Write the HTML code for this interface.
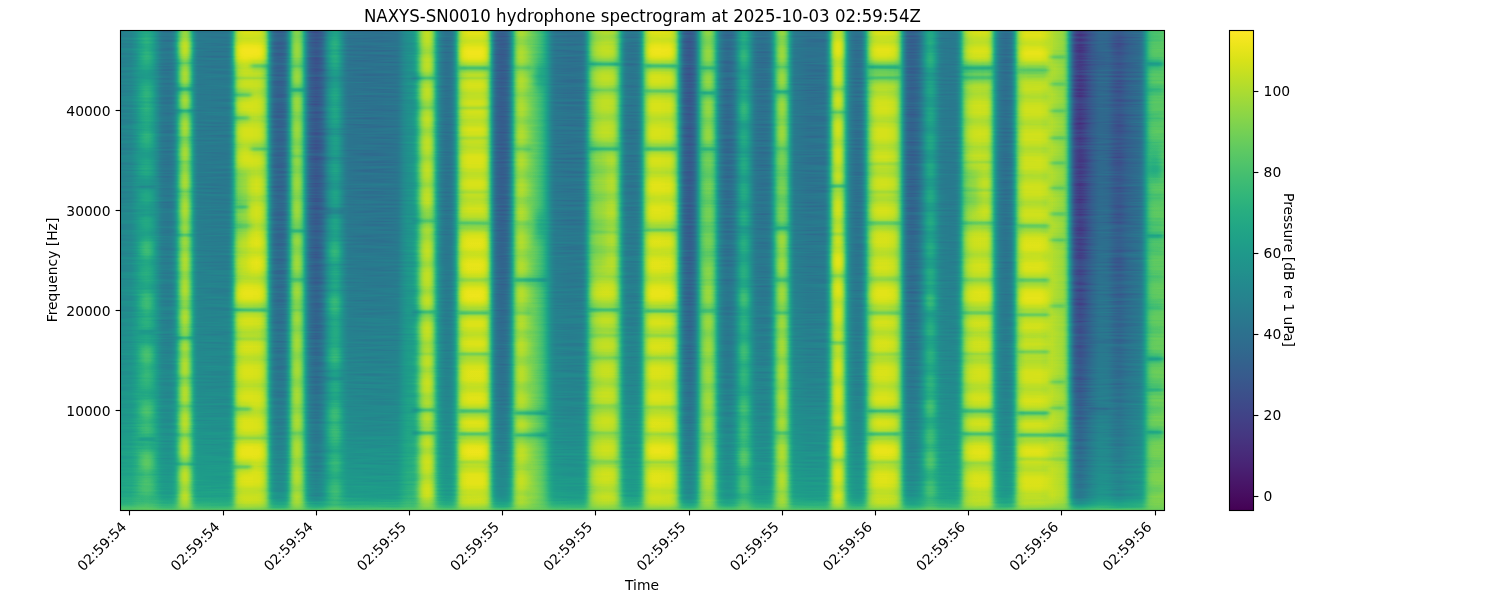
<!DOCTYPE html>
<html lang="en"><head><meta charset="utf-8"><title>NAXYS-SN0010 hydrophone spectrogram</title>
<style>html,body{margin:0;padding:0;background:#fff}svg{display:block}text{font-family:'DejaVu Sans','Liberation Sans',sans-serif;fill:#000}</style></head>
<body>
<svg width="1500" height="600" viewBox="0 0 1500 600">
<defs><linearGradient id="prof" gradientUnits="userSpaceOnUse" x1="120" y1="0" x2="1164" y2="0"><stop offset="0.0000" stop-color="#707070"/><stop offset="0.0019" stop-color="#717171"/><stop offset="0.0038" stop-color="#717171"/><stop offset="0.0057" stop-color="#727272"/><stop offset="0.0077" stop-color="#737373"/><stop offset="0.0096" stop-color="#747474"/><stop offset="0.0115" stop-color="#777777"/><stop offset="0.0134" stop-color="#7c7c7c"/><stop offset="0.0153" stop-color="#818181"/><stop offset="0.0172" stop-color="#888888"/><stop offset="0.0192" stop-color="#8f8f8f"/><stop offset="0.0211" stop-color="#949494"/><stop offset="0.0230" stop-color="#979797"/><stop offset="0.0249" stop-color="#999999"/><stop offset="0.0268" stop-color="#989898"/><stop offset="0.0287" stop-color="#959595"/><stop offset="0.0307" stop-color="#909090"/><stop offset="0.0326" stop-color="#898989"/><stop offset="0.0345" stop-color="#7f7f7f"/><stop offset="0.0364" stop-color="#767676"/><stop offset="0.0383" stop-color="#6d6d6d"/><stop offset="0.0402" stop-color="#676767"/><stop offset="0.0421" stop-color="#646464"/><stop offset="0.0441" stop-color="#636363"/><stop offset="0.0460" stop-color="#626262"/><stop offset="0.0479" stop-color="#646464"/><stop offset="0.0498" stop-color="#676767"/><stop offset="0.0517" stop-color="#707070"/><stop offset="0.0536" stop-color="#848484"/><stop offset="0.0556" stop-color="#a3a3a3"/><stop offset="0.0575" stop-color="#c0c0c0"/><stop offset="0.0594" stop-color="#d4d4d4"/><stop offset="0.0613" stop-color="#dedede"/><stop offset="0.0632" stop-color="#dfdfdf"/><stop offset="0.0651" stop-color="#d5d5d5"/><stop offset="0.0670" stop-color="#c0c0c0"/><stop offset="0.0690" stop-color="#a2a2a2"/><stop offset="0.0709" stop-color="#848484"/><stop offset="0.0728" stop-color="#727272"/><stop offset="0.0747" stop-color="#6a6a6a"/><stop offset="0.0766" stop-color="#686868"/><stop offset="0.0785" stop-color="#686868"/><stop offset="0.0805" stop-color="#676767"/><stop offset="0.0824" stop-color="#676767"/><stop offset="0.0843" stop-color="#676767"/><stop offset="0.0862" stop-color="#676767"/><stop offset="0.0881" stop-color="#666666"/><stop offset="0.0900" stop-color="#666666"/><stop offset="0.0920" stop-color="#666666"/><stop offset="0.0939" stop-color="#666666"/><stop offset="0.0958" stop-color="#666666"/><stop offset="0.0977" stop-color="#666666"/><stop offset="0.0996" stop-color="#666666"/><stop offset="0.1015" stop-color="#666666"/><stop offset="0.1034" stop-color="#686868"/><stop offset="0.1054" stop-color="#707070"/><stop offset="0.1073" stop-color="#858585"/><stop offset="0.1092" stop-color="#a5a5a5"/><stop offset="0.1111" stop-color="#c8c8c8"/><stop offset="0.1130" stop-color="#dfdfdf"/><stop offset="0.1149" stop-color="#e8e8e8"/><stop offset="0.1169" stop-color="#ececec"/><stop offset="0.1188" stop-color="#eeeeee"/><stop offset="0.1207" stop-color="#efefef"/><stop offset="0.1226" stop-color="#efefef"/><stop offset="0.1245" stop-color="#efefef"/><stop offset="0.1264" stop-color="#efefef"/><stop offset="0.1284" stop-color="#eeeeee"/><stop offset="0.1303" stop-color="#eeeeee"/><stop offset="0.1322" stop-color="#ededed"/><stop offset="0.1341" stop-color="#ebebeb"/><stop offset="0.1360" stop-color="#e6e6e6"/><stop offset="0.1379" stop-color="#dcdcdc"/><stop offset="0.1398" stop-color="#c8c8c8"/><stop offset="0.1418" stop-color="#a6a6a6"/><stop offset="0.1437" stop-color="#818181"/><stop offset="0.1456" stop-color="#666666"/><stop offset="0.1475" stop-color="#585858"/><stop offset="0.1494" stop-color="#525252"/><stop offset="0.1513" stop-color="#4f4f4f"/><stop offset="0.1533" stop-color="#4f4f4f"/><stop offset="0.1552" stop-color="#505050"/><stop offset="0.1571" stop-color="#545454"/><stop offset="0.1590" stop-color="#5f5f5f"/><stop offset="0.1609" stop-color="#777777"/><stop offset="0.1628" stop-color="#9a9a9a"/><stop offset="0.1648" stop-color="#bcbcbc"/><stop offset="0.1667" stop-color="#d0d0d0"/><stop offset="0.1686" stop-color="#d9d9d9"/><stop offset="0.1705" stop-color="#d9d9d9"/><stop offset="0.1724" stop-color="#d1d1d1"/><stop offset="0.1743" stop-color="#bfbfbf"/><stop offset="0.1762" stop-color="#a0a0a0"/><stop offset="0.1782" stop-color="#7d7d7d"/><stop offset="0.1801" stop-color="#616161"/><stop offset="0.1820" stop-color="#525252"/><stop offset="0.1839" stop-color="#4a4a4a"/><stop offset="0.1858" stop-color="#464646"/><stop offset="0.1877" stop-color="#434343"/><stop offset="0.1897" stop-color="#454545"/><stop offset="0.1916" stop-color="#494949"/><stop offset="0.1935" stop-color="#505050"/><stop offset="0.1954" stop-color="#5b5b5b"/><stop offset="0.1973" stop-color="#6a6a6a"/><stop offset="0.1992" stop-color="#787878"/><stop offset="0.2011" stop-color="#848484"/><stop offset="0.2031" stop-color="#8c8c8c"/><stop offset="0.2050" stop-color="#919191"/><stop offset="0.2069" stop-color="#929292"/><stop offset="0.2088" stop-color="#8e8e8e"/><stop offset="0.2107" stop-color="#858585"/><stop offset="0.2126" stop-color="#7a7a7a"/><stop offset="0.2146" stop-color="#707070"/><stop offset="0.2165" stop-color="#686868"/><stop offset="0.2184" stop-color="#636363"/><stop offset="0.2203" stop-color="#616161"/><stop offset="0.2222" stop-color="#616161"/><stop offset="0.2241" stop-color="#606060"/><stop offset="0.2261" stop-color="#606060"/><stop offset="0.2280" stop-color="#606060"/><stop offset="0.2299" stop-color="#606060"/><stop offset="0.2318" stop-color="#606060"/><stop offset="0.2337" stop-color="#5f5f5f"/><stop offset="0.2356" stop-color="#5f5f5f"/><stop offset="0.2375" stop-color="#5f5f5f"/><stop offset="0.2395" stop-color="#5f5f5f"/><stop offset="0.2414" stop-color="#5f5f5f"/><stop offset="0.2433" stop-color="#5f5f5f"/><stop offset="0.2452" stop-color="#5f5f5f"/><stop offset="0.2471" stop-color="#5f5f5f"/><stop offset="0.2490" stop-color="#5f5f5f"/><stop offset="0.2510" stop-color="#5f5f5f"/><stop offset="0.2529" stop-color="#5f5f5f"/><stop offset="0.2548" stop-color="#606060"/><stop offset="0.2567" stop-color="#606060"/><stop offset="0.2586" stop-color="#606060"/><stop offset="0.2605" stop-color="#606060"/><stop offset="0.2625" stop-color="#616161"/><stop offset="0.2644" stop-color="#616161"/><stop offset="0.2663" stop-color="#646464"/><stop offset="0.2682" stop-color="#6a6a6a"/><stop offset="0.2701" stop-color="#717171"/><stop offset="0.2720" stop-color="#777777"/><stop offset="0.2739" stop-color="#7b7b7b"/><stop offset="0.2759" stop-color="#7f7f7f"/><stop offset="0.2778" stop-color="#818181"/><stop offset="0.2797" stop-color="#848484"/><stop offset="0.2816" stop-color="#8b8b8b"/><stop offset="0.2835" stop-color="#999999"/><stop offset="0.2854" stop-color="#afafaf"/><stop offset="0.2874" stop-color="#c5c5c5"/><stop offset="0.2893" stop-color="#d7d7d7"/><stop offset="0.2912" stop-color="#e1e1e1"/><stop offset="0.2931" stop-color="#e6e6e6"/><stop offset="0.2950" stop-color="#e7e7e7"/><stop offset="0.2969" stop-color="#e2e2e2"/><stop offset="0.2989" stop-color="#d6d6d6"/><stop offset="0.3008" stop-color="#bebebe"/><stop offset="0.3027" stop-color="#9f9f9f"/><stop offset="0.3046" stop-color="#848484"/><stop offset="0.3065" stop-color="#727272"/><stop offset="0.3084" stop-color="#686868"/><stop offset="0.3103" stop-color="#626262"/><stop offset="0.3123" stop-color="#5f5f5f"/><stop offset="0.3142" stop-color="#5f5f5f"/><stop offset="0.3161" stop-color="#616161"/><stop offset="0.3180" stop-color="#676767"/><stop offset="0.3199" stop-color="#757575"/><stop offset="0.3218" stop-color="#8f8f8f"/><stop offset="0.3238" stop-color="#b4b4b4"/><stop offset="0.3257" stop-color="#d4d4d4"/><stop offset="0.3276" stop-color="#e5e5e5"/><stop offset="0.3295" stop-color="#ececec"/><stop offset="0.3314" stop-color="#efefef"/><stop offset="0.3333" stop-color="#f1f1f1"/><stop offset="0.3352" stop-color="#f2f2f2"/><stop offset="0.3372" stop-color="#f2f2f2"/><stop offset="0.3391" stop-color="#f2f2f2"/><stop offset="0.3410" stop-color="#f2f2f2"/><stop offset="0.3429" stop-color="#f2f2f2"/><stop offset="0.3448" stop-color="#f2f2f2"/><stop offset="0.3467" stop-color="#f1f1f1"/><stop offset="0.3487" stop-color="#eeeeee"/><stop offset="0.3506" stop-color="#e6e6e6"/><stop offset="0.3525" stop-color="#d5d5d5"/><stop offset="0.3544" stop-color="#b4b4b4"/><stop offset="0.3563" stop-color="#8a8a8a"/><stop offset="0.3582" stop-color="#686868"/><stop offset="0.3602" stop-color="#565656"/><stop offset="0.3621" stop-color="#4e4e4e"/><stop offset="0.3640" stop-color="#4b4b4b"/><stop offset="0.3659" stop-color="#4a4a4a"/><stop offset="0.3678" stop-color="#4b4b4b"/><stop offset="0.3697" stop-color="#4e4e4e"/><stop offset="0.3716" stop-color="#565656"/><stop offset="0.3736" stop-color="#686868"/><stop offset="0.3755" stop-color="#878787"/><stop offset="0.3774" stop-color="#acacac"/><stop offset="0.3793" stop-color="#c9c9c9"/><stop offset="0.3812" stop-color="#d9d9d9"/><stop offset="0.3831" stop-color="#e0e0e0"/><stop offset="0.3851" stop-color="#e1e1e1"/><stop offset="0.3870" stop-color="#dedede"/><stop offset="0.3889" stop-color="#dadada"/><stop offset="0.3908" stop-color="#d4d4d4"/><stop offset="0.3927" stop-color="#cecece"/><stop offset="0.3946" stop-color="#c8c8c8"/><stop offset="0.3966" stop-color="#c2c2c2"/><stop offset="0.3985" stop-color="#bdbdbd"/><stop offset="0.4004" stop-color="#b7b7b7"/><stop offset="0.4023" stop-color="#b1b1b1"/><stop offset="0.4042" stop-color="#aaaaaa"/><stop offset="0.4061" stop-color="#a1a1a1"/><stop offset="0.4080" stop-color="#959595"/><stop offset="0.4100" stop-color="#878787"/><stop offset="0.4119" stop-color="#797979"/><stop offset="0.4138" stop-color="#6e6e6e"/><stop offset="0.4157" stop-color="#676767"/><stop offset="0.4176" stop-color="#636363"/><stop offset="0.4195" stop-color="#626262"/><stop offset="0.4215" stop-color="#626262"/><stop offset="0.4234" stop-color="#616161"/><stop offset="0.4253" stop-color="#606060"/><stop offset="0.4272" stop-color="#606060"/><stop offset="0.4291" stop-color="#5f5f5f"/><stop offset="0.4310" stop-color="#5f5f5f"/><stop offset="0.4330" stop-color="#5f5f5f"/><stop offset="0.4349" stop-color="#5f5f5f"/><stop offset="0.4368" stop-color="#5f5f5f"/><stop offset="0.4387" stop-color="#606060"/><stop offset="0.4406" stop-color="#606060"/><stop offset="0.4425" stop-color="#626262"/><stop offset="0.4444" stop-color="#696969"/><stop offset="0.4464" stop-color="#7c7c7c"/><stop offset="0.4483" stop-color="#9a9a9a"/><stop offset="0.4502" stop-color="#b8b8b8"/><stop offset="0.4521" stop-color="#cccccc"/><stop offset="0.4540" stop-color="#d7d7d7"/><stop offset="0.4559" stop-color="#dedede"/><stop offset="0.4579" stop-color="#e2e2e2"/><stop offset="0.4598" stop-color="#e4e4e4"/><stop offset="0.4617" stop-color="#e6e6e6"/><stop offset="0.4636" stop-color="#e7e7e7"/><stop offset="0.4655" stop-color="#e7e7e7"/><stop offset="0.4674" stop-color="#e7e7e7"/><stop offset="0.4693" stop-color="#e6e6e6"/><stop offset="0.4713" stop-color="#e5e5e5"/><stop offset="0.4732" stop-color="#e0e0e0"/><stop offset="0.4751" stop-color="#d4d4d4"/><stop offset="0.4770" stop-color="#c2c2c2"/><stop offset="0.4789" stop-color="#a7a7a7"/><stop offset="0.4808" stop-color="#898989"/><stop offset="0.4828" stop-color="#737373"/><stop offset="0.4847" stop-color="#686868"/><stop offset="0.4866" stop-color="#646464"/><stop offset="0.4885" stop-color="#636363"/><stop offset="0.4904" stop-color="#626262"/><stop offset="0.4923" stop-color="#636363"/><stop offset="0.4943" stop-color="#646464"/><stop offset="0.4962" stop-color="#696969"/><stop offset="0.4981" stop-color="#767676"/><stop offset="0.5000" stop-color="#909090"/><stop offset="0.5019" stop-color="#b3b3b3"/><stop offset="0.5038" stop-color="#d0d0d0"/><stop offset="0.5057" stop-color="#e1e1e1"/><stop offset="0.5077" stop-color="#ebebeb"/><stop offset="0.5096" stop-color="#efefef"/><stop offset="0.5115" stop-color="#f0f0f0"/><stop offset="0.5134" stop-color="#f0f0f0"/><stop offset="0.5153" stop-color="#f0f0f0"/><stop offset="0.5172" stop-color="#f0f0f0"/><stop offset="0.5192" stop-color="#efefef"/><stop offset="0.5211" stop-color="#efefef"/><stop offset="0.5230" stop-color="#eeeeee"/><stop offset="0.5249" stop-color="#eeeeee"/><stop offset="0.5268" stop-color="#ededed"/><stop offset="0.5287" stop-color="#e8e8e8"/><stop offset="0.5307" stop-color="#dedede"/><stop offset="0.5326" stop-color="#cbcbcb"/><stop offset="0.5345" stop-color="#ababab"/><stop offset="0.5364" stop-color="#858585"/><stop offset="0.5383" stop-color="#656565"/><stop offset="0.5402" stop-color="#535353"/><stop offset="0.5421" stop-color="#4b4b4b"/><stop offset="0.5441" stop-color="#474747"/><stop offset="0.5460" stop-color="#464646"/><stop offset="0.5479" stop-color="#4a4a4a"/><stop offset="0.5498" stop-color="#525252"/><stop offset="0.5517" stop-color="#636363"/><stop offset="0.5536" stop-color="#818181"/><stop offset="0.5556" stop-color="#a3a3a3"/><stop offset="0.5575" stop-color="#bdbdbd"/><stop offset="0.5594" stop-color="#cbcbcb"/><stop offset="0.5613" stop-color="#d4d4d4"/><stop offset="0.5632" stop-color="#d7d7d7"/><stop offset="0.5651" stop-color="#d5d5d5"/><stop offset="0.5670" stop-color="#cccccc"/><stop offset="0.5690" stop-color="#bbbbbb"/><stop offset="0.5709" stop-color="#a0a0a0"/><stop offset="0.5728" stop-color="#838383"/><stop offset="0.5747" stop-color="#6e6e6e"/><stop offset="0.5766" stop-color="#636363"/><stop offset="0.5785" stop-color="#5c5c5c"/><stop offset="0.5805" stop-color="#585858"/><stop offset="0.5824" stop-color="#575757"/><stop offset="0.5843" stop-color="#595959"/><stop offset="0.5862" stop-color="#5c5c5c"/><stop offset="0.5881" stop-color="#636363"/><stop offset="0.5900" stop-color="#6f6f6f"/><stop offset="0.5920" stop-color="#7f7f7f"/><stop offset="0.5939" stop-color="#8e8e8e"/><stop offset="0.5958" stop-color="#989898"/><stop offset="0.5977" stop-color="#9b9b9b"/><stop offset="0.5996" stop-color="#989898"/><stop offset="0.6015" stop-color="#909090"/><stop offset="0.6034" stop-color="#838383"/><stop offset="0.6054" stop-color="#757575"/><stop offset="0.6073" stop-color="#696969"/><stop offset="0.6092" stop-color="#626262"/><stop offset="0.6111" stop-color="#5f5f5f"/><stop offset="0.6130" stop-color="#5e5e5e"/><stop offset="0.6149" stop-color="#5d5d5d"/><stop offset="0.6169" stop-color="#5d5d5d"/><stop offset="0.6188" stop-color="#5e5e5e"/><stop offset="0.6207" stop-color="#606060"/><stop offset="0.6226" stop-color="#676767"/><stop offset="0.6245" stop-color="#7a7a7a"/><stop offset="0.6264" stop-color="#969696"/><stop offset="0.6284" stop-color="#b3b3b3"/><stop offset="0.6303" stop-color="#c9c9c9"/><stop offset="0.6322" stop-color="#d6d6d6"/><stop offset="0.6341" stop-color="#dadada"/><stop offset="0.6360" stop-color="#d6d6d6"/><stop offset="0.6379" stop-color="#cacaca"/><stop offset="0.6398" stop-color="#b2b2b2"/><stop offset="0.6418" stop-color="#939393"/><stop offset="0.6437" stop-color="#797979"/><stop offset="0.6456" stop-color="#6a6a6a"/><stop offset="0.6475" stop-color="#656565"/><stop offset="0.6494" stop-color="#646464"/><stop offset="0.6513" stop-color="#636363"/><stop offset="0.6533" stop-color="#626262"/><stop offset="0.6552" stop-color="#616161"/><stop offset="0.6571" stop-color="#606060"/><stop offset="0.6590" stop-color="#5f5f5f"/><stop offset="0.6609" stop-color="#5f5f5f"/><stop offset="0.6628" stop-color="#5f5f5f"/><stop offset="0.6648" stop-color="#5f5f5f"/><stop offset="0.6667" stop-color="#5f5f5f"/><stop offset="0.6686" stop-color="#606060"/><stop offset="0.6705" stop-color="#606060"/><stop offset="0.6724" stop-color="#606060"/><stop offset="0.6743" stop-color="#616161"/><stop offset="0.6762" stop-color="#686868"/><stop offset="0.6782" stop-color="#7b7b7b"/><stop offset="0.6801" stop-color="#9d9d9d"/><stop offset="0.6820" stop-color="#c2c2c2"/><stop offset="0.6839" stop-color="#dddddd"/><stop offset="0.6858" stop-color="#eaeaea"/><stop offset="0.6877" stop-color="#eeeeee"/><stop offset="0.6897" stop-color="#eaeaea"/><stop offset="0.6916" stop-color="#dddddd"/><stop offset="0.6935" stop-color="#c2c2c2"/><stop offset="0.6954" stop-color="#9f9f9f"/><stop offset="0.6973" stop-color="#818181"/><stop offset="0.6992" stop-color="#6e6e6e"/><stop offset="0.7011" stop-color="#646464"/><stop offset="0.7031" stop-color="#5f5f5f"/><stop offset="0.7050" stop-color="#5c5c5c"/><stop offset="0.7069" stop-color="#5c5c5c"/><stop offset="0.7088" stop-color="#5e5e5e"/><stop offset="0.7107" stop-color="#656565"/><stop offset="0.7126" stop-color="#767676"/><stop offset="0.7146" stop-color="#939393"/><stop offset="0.7165" stop-color="#b5b5b5"/><stop offset="0.7184" stop-color="#cfcfcf"/><stop offset="0.7203" stop-color="#dedede"/><stop offset="0.7222" stop-color="#e7e7e7"/><stop offset="0.7241" stop-color="#ececec"/><stop offset="0.7261" stop-color="#eeeeee"/><stop offset="0.7280" stop-color="#efefef"/><stop offset="0.7299" stop-color="#efefef"/><stop offset="0.7318" stop-color="#efefef"/><stop offset="0.7337" stop-color="#efefef"/><stop offset="0.7356" stop-color="#eeeeee"/><stop offset="0.7375" stop-color="#ededed"/><stop offset="0.7395" stop-color="#ececec"/><stop offset="0.7414" stop-color="#e9e9e9"/><stop offset="0.7433" stop-color="#e2e2e2"/><stop offset="0.7452" stop-color="#d5d5d5"/><stop offset="0.7471" stop-color="#bdbdbd"/><stop offset="0.7490" stop-color="#9a9a9a"/><stop offset="0.7510" stop-color="#777777"/><stop offset="0.7529" stop-color="#5f5f5f"/><stop offset="0.7548" stop-color="#545454"/><stop offset="0.7567" stop-color="#505050"/><stop offset="0.7586" stop-color="#4f4f4f"/><stop offset="0.7605" stop-color="#505050"/><stop offset="0.7625" stop-color="#535353"/><stop offset="0.7644" stop-color="#575757"/><stop offset="0.7663" stop-color="#606060"/><stop offset="0.7682" stop-color="#6c6c6c"/><stop offset="0.7701" stop-color="#7a7a7a"/><stop offset="0.7720" stop-color="#888888"/><stop offset="0.7739" stop-color="#929292"/><stop offset="0.7759" stop-color="#969696"/><stop offset="0.7778" stop-color="#959595"/><stop offset="0.7797" stop-color="#8e8e8e"/><stop offset="0.7816" stop-color="#838383"/><stop offset="0.7835" stop-color="#777777"/><stop offset="0.7854" stop-color="#6e6e6e"/><stop offset="0.7874" stop-color="#6a6a6a"/><stop offset="0.7893" stop-color="#686868"/><stop offset="0.7912" stop-color="#676767"/><stop offset="0.7931" stop-color="#676767"/><stop offset="0.7950" stop-color="#666666"/><stop offset="0.7969" stop-color="#676767"/><stop offset="0.7989" stop-color="#676767"/><stop offset="0.8008" stop-color="#6a6a6a"/><stop offset="0.8027" stop-color="#727272"/><stop offset="0.8046" stop-color="#868686"/><stop offset="0.8065" stop-color="#a5a5a5"/><stop offset="0.8084" stop-color="#c3c3c3"/><stop offset="0.8103" stop-color="#d6d6d6"/><stop offset="0.8123" stop-color="#e0e0e0"/><stop offset="0.8142" stop-color="#e6e6e6"/><stop offset="0.8161" stop-color="#e9e9e9"/><stop offset="0.8180" stop-color="#ebebeb"/><stop offset="0.8199" stop-color="#ececec"/><stop offset="0.8218" stop-color="#ececec"/><stop offset="0.8238" stop-color="#ededed"/><stop offset="0.8257" stop-color="#ececec"/><stop offset="0.8276" stop-color="#ececec"/><stop offset="0.8295" stop-color="#ebebeb"/><stop offset="0.8314" stop-color="#e7e7e7"/><stop offset="0.8333" stop-color="#dbdbdb"/><stop offset="0.8352" stop-color="#c2c2c2"/><stop offset="0.8372" stop-color="#a0a0a0"/><stop offset="0.8391" stop-color="#828282"/><stop offset="0.8410" stop-color="#6f6f6f"/><stop offset="0.8429" stop-color="#646464"/><stop offset="0.8448" stop-color="#5f5f5f"/><stop offset="0.8467" stop-color="#5c5c5c"/><stop offset="0.8487" stop-color="#5b5b5b"/><stop offset="0.8506" stop-color="#5d5d5d"/><stop offset="0.8525" stop-color="#616161"/><stop offset="0.8544" stop-color="#6c6c6c"/><stop offset="0.8563" stop-color="#848484"/><stop offset="0.8582" stop-color="#a7a7a7"/><stop offset="0.8602" stop-color="#c8c8c8"/><stop offset="0.8621" stop-color="#dcdcdc"/><stop offset="0.8640" stop-color="#e5e5e5"/><stop offset="0.8659" stop-color="#eaeaea"/><stop offset="0.8678" stop-color="#ededed"/><stop offset="0.8697" stop-color="#ededed"/><stop offset="0.8716" stop-color="#ededed"/><stop offset="0.8736" stop-color="#ededed"/><stop offset="0.8755" stop-color="#ededed"/><stop offset="0.8774" stop-color="#ededed"/><stop offset="0.8793" stop-color="#ededed"/><stop offset="0.8812" stop-color="#ededed"/><stop offset="0.8831" stop-color="#ececec"/><stop offset="0.8851" stop-color="#eaeaea"/><stop offset="0.8870" stop-color="#e9e9e9"/><stop offset="0.8889" stop-color="#e7e7e7"/><stop offset="0.8908" stop-color="#e5e5e5"/><stop offset="0.8927" stop-color="#e3e3e3"/><stop offset="0.8946" stop-color="#e0e0e0"/><stop offset="0.8966" stop-color="#dedede"/><stop offset="0.8985" stop-color="#dcdcdc"/><stop offset="0.9004" stop-color="#dadada"/><stop offset="0.9023" stop-color="#d8d8d8"/><stop offset="0.9042" stop-color="#d2d2d2"/><stop offset="0.9061" stop-color="#c4c4c4"/><stop offset="0.9080" stop-color="#a8a8a8"/><stop offset="0.9100" stop-color="#818181"/><stop offset="0.9119" stop-color="#5c5c5c"/><stop offset="0.9138" stop-color="#434343"/><stop offset="0.9157" stop-color="#353535"/><stop offset="0.9176" stop-color="#2f2f2f"/><stop offset="0.9195" stop-color="#2c2c2c"/><stop offset="0.9215" stop-color="#2e2e2e"/><stop offset="0.9234" stop-color="#323232"/><stop offset="0.9253" stop-color="#363636"/><stop offset="0.9272" stop-color="#3c3c3c"/><stop offset="0.9291" stop-color="#414141"/><stop offset="0.9310" stop-color="#474747"/><stop offset="0.9330" stop-color="#4b4b4b"/><stop offset="0.9349" stop-color="#4f4f4f"/><stop offset="0.9368" stop-color="#535353"/><stop offset="0.9387" stop-color="#555555"/><stop offset="0.9406" stop-color="#565656"/><stop offset="0.9425" stop-color="#555555"/><stop offset="0.9444" stop-color="#555555"/><stop offset="0.9464" stop-color="#535353"/><stop offset="0.9483" stop-color="#505050"/><stop offset="0.9502" stop-color="#4c4c4c"/><stop offset="0.9521" stop-color="#484848"/><stop offset="0.9540" stop-color="#464646"/><stop offset="0.9559" stop-color="#444444"/><stop offset="0.9579" stop-color="#444444"/><stop offset="0.9598" stop-color="#464646"/><stop offset="0.9617" stop-color="#494949"/><stop offset="0.9636" stop-color="#4c4c4c"/><stop offset="0.9655" stop-color="#4e4e4e"/><stop offset="0.9674" stop-color="#505050"/><stop offset="0.9693" stop-color="#525252"/><stop offset="0.9713" stop-color="#545454"/><stop offset="0.9732" stop-color="#565656"/><stop offset="0.9751" stop-color="#585858"/><stop offset="0.9770" stop-color="#5c5c5c"/><stop offset="0.9789" stop-color="#656565"/><stop offset="0.9808" stop-color="#777777"/><stop offset="0.9828" stop-color="#909090"/><stop offset="0.9847" stop-color="#a7a7a7"/><stop offset="0.9866" stop-color="#b5b5b5"/><stop offset="0.9885" stop-color="#bbbbbb"/><stop offset="0.9904" stop-color="#bdbdbd"/><stop offset="0.9923" stop-color="#bebebe"/><stop offset="0.9943" stop-color="#bebebe"/><stop offset="0.9962" stop-color="#bebebe"/><stop offset="0.9981" stop-color="#bfbfbf"/><stop offset="1.0000" stop-color="#bfbfbf"/></linearGradient><filter id="vir" filterUnits="userSpaceOnUse" x="120" y="30" width="1044" height="480" color-interpolation-filters="sRGB"><feTurbulence type="fractalNoise" baseFrequency="0.02 0.5" numOctaves="2" seed="7" result="n"/><feColorMatrix in="n" type="matrix" values="1 0 0 0 0 1 0 0 0 0 1 0 0 0 0 0 0 0 0 1" result="n2"/><feComposite in="SourceGraphic" in2="n2" operator="arithmetic" k1="-0.2" k2="1.1" k3="0.2" k4="-0.1"/><feComponentTransfer><feFuncR type="table" tableValues="0.2670 0.2685 0.2699 0.2713 0.2726 0.2738 0.2750 0.2760 0.2770 0.2779 0.2788 0.2796 0.2803 0.2809 0.2814 0.2819 0.2823 0.2827 0.2829 0.2831 0.2832 0.2832 0.2832 0.2831 0.2829 0.2826 0.2823 0.2819 0.2814 0.2809 0.2803 0.2796 0.2788 0.2780 0.2771 0.2762 0.2752 0.2741 0.2730 0.2718 0.2706 0.2693 0.2680 0.2666 0.2651 0.2637 0.2621 0.2606 0.2590 0.2573 0.2556 0.2539 0.2522 0.2504 0.2486 0.2468 0.2450 0.2431 0.2412 0.2393 0.2374 0.2355 0.2336 0.2317 0.2297 0.2278 0.2259 0.2239 0.2220 0.2201 0.2181 0.2162 0.2143 0.2124 0.2105 0.2086 0.2068 0.2049 0.2031 0.2012 0.1994 0.1976 0.1959 0.1941 0.1924 0.1906 0.1889 0.1872 0.1856 0.1839 0.1823 0.1806 0.1790 0.1774 0.1758 0.1743 0.1727 0.1712 0.1696 0.1681 0.1666 0.1651 0.1636 0.1621 0.1607 0.1592 0.1577 0.1563 0.1548 0.1534 0.1519 0.1505 0.1490 0.1476 0.1462 0.1448 0.1433 0.1419 0.1405 0.1391 0.1378 0.1364 0.1351 0.1337 0.1324 0.1312 0.1299 0.1287 0.1276 0.1265 0.1254 0.1244 0.1235 0.1226 0.1218 0.1211 0.1206 0.1201 0.1197 0.1195 0.1194 0.1195 0.1197 0.1201 0.1206 0.1214 0.1223 0.1234 0.1248 0.1263 0.1281 0.1301 0.1323 0.1347 0.1373 0.1402 0.1433 0.1466 0.1501 0.1539 0.1579 0.1620 0.1664 0.1709 0.1757 0.1807 0.1858 0.1911 0.1966 0.2022 0.2080 0.2140 0.2201 0.2264 0.2328 0.2394 0.2461 0.2529 0.2599 0.2669 0.2741 0.2815 0.2889 0.2965 0.3041 0.3119 0.3198 0.3278 0.3359 0.3441 0.3524 0.3607 0.3692 0.3778 0.3864 0.3952 0.4040 0.4129 0.4219 0.4310 0.4401 0.4494 0.4587 0.4681 0.4775 0.4870 0.4966 0.5063 0.5160 0.5258 0.5356 0.5455 0.5555 0.5655 0.5756 0.5857 0.5958 0.6060 0.6163 0.6266 0.6369 0.6473 0.6576 0.6681 0.6785 0.6889 0.6994 0.7099 0.7204 0.7309 0.7414 0.7519 0.7624 0.7729 0.7833 0.7938 0.8042 0.8146 0.8249 0.8353 0.8456 0.8558 0.8660 0.8762 0.8863 0.8963 0.9063 0.9162 0.9261 0.9359 0.9456 0.9553 0.9649 0.9744 0.9839 0.9932"/><feFuncG type="table" tableValues="0.0049 0.0096 0.0146 0.0199 0.0256 0.0315 0.0378 0.0442 0.0503 0.0563 0.0621 0.0678 0.0734 0.0789 0.0843 0.0897 0.0950 0.1002 0.1054 0.1106 0.1157 0.1208 0.1258 0.1309 0.1359 0.1409 0.1459 0.1509 0.1558 0.1608 0.1657 0.1706 0.1755 0.1804 0.1852 0.1901 0.1949 0.1997 0.2045 0.2093 0.2141 0.2188 0.2235 0.2283 0.2330 0.2376 0.2423 0.2469 0.2515 0.2561 0.2607 0.2653 0.2698 0.2743 0.2788 0.2832 0.2877 0.2921 0.2965 0.3009 0.3052 0.3095 0.3138 0.3181 0.3224 0.3266 0.3308 0.3350 0.3392 0.3433 0.3474 0.3515 0.3556 0.3597 0.3637 0.3678 0.3718 0.3757 0.3797 0.3837 0.3876 0.3915 0.3954 0.3993 0.4032 0.4071 0.4109 0.4147 0.4186 0.4224 0.4262 0.4300 0.4338 0.4375 0.4413 0.4450 0.4488 0.4525 0.4563 0.4600 0.4637 0.4674 0.4711 0.4748 0.4785 0.4822 0.4859 0.4896 0.4933 0.4970 0.5007 0.5044 0.5081 0.5117 0.5154 0.5191 0.5228 0.5265 0.5301 0.5338 0.5375 0.5412 0.5449 0.5485 0.5522 0.5559 0.5596 0.5633 0.5669 0.5706 0.5743 0.5780 0.5817 0.5854 0.5891 0.5927 0.5964 0.6001 0.6038 0.6075 0.6111 0.6148 0.6185 0.6222 0.6258 0.6295 0.6332 0.6368 0.6405 0.6441 0.6477 0.6514 0.6550 0.6586 0.6623 0.6659 0.6695 0.6731 0.6766 0.6802 0.6838 0.6873 0.6909 0.6944 0.6979 0.7014 0.7049 0.7084 0.7118 0.7153 0.7187 0.7221 0.7255 0.7289 0.7322 0.7356 0.7389 0.7422 0.7455 0.7488 0.7520 0.7552 0.7584 0.7616 0.7647 0.7678 0.7709 0.7740 0.7770 0.7800 0.7830 0.7860 0.7889 0.7918 0.7946 0.7975 0.8003 0.8030 0.8058 0.8085 0.8111 0.8138 0.8164 0.8189 0.8214 0.8239 0.8264 0.8288 0.8312 0.8335 0.8358 0.8380 0.8403 0.8424 0.8446 0.8467 0.8487 0.8507 0.8527 0.8546 0.8565 0.8584 0.8602 0.8620 0.8637 0.8654 0.8671 0.8688 0.8703 0.8719 0.8734 0.8750 0.8764 0.8779 0.8793 0.8807 0.8820 0.8834 0.8847 0.8860 0.8873 0.8886 0.8899 0.8911 0.8924 0.8936 0.8949 0.8961 0.8973 0.8986 0.8998 0.9011 0.9023 0.9036 0.9049 0.9062"/><feFuncB type="table" tableValues="0.3294 0.3354 0.3414 0.3473 0.3531 0.3589 0.3645 0.3702 0.3757 0.3812 0.3866 0.3919 0.3972 0.4023 0.4074 0.4124 0.4173 0.4222 0.4269 0.4316 0.4361 0.4406 0.4450 0.4492 0.4534 0.4575 0.4615 0.4654 0.4692 0.4729 0.4765 0.4800 0.4834 0.4867 0.4899 0.4930 0.4960 0.4989 0.5017 0.5044 0.5071 0.5096 0.5120 0.5143 0.5166 0.5188 0.5208 0.5228 0.5247 0.5266 0.5283 0.5300 0.5316 0.5331 0.5346 0.5359 0.5373 0.5385 0.5397 0.5408 0.5419 0.5429 0.5439 0.5448 0.5457 0.5465 0.5473 0.5481 0.5488 0.5494 0.5500 0.5506 0.5512 0.5517 0.5522 0.5527 0.5531 0.5535 0.5539 0.5543 0.5546 0.5550 0.5553 0.5556 0.5558 0.5561 0.5563 0.5565 0.5568 0.5569 0.5571 0.5573 0.5574 0.5576 0.5577 0.5578 0.5579 0.5580 0.5580 0.5581 0.5581 0.5581 0.5581 0.5581 0.5581 0.5581 0.5580 0.5579 0.5578 0.5577 0.5576 0.5574 0.5573 0.5570 0.5568 0.5566 0.5563 0.5560 0.5557 0.5553 0.5549 0.5545 0.5540 0.5535 0.5530 0.5525 0.5519 0.5512 0.5506 0.5498 0.5491 0.5483 0.5474 0.5466 0.5456 0.5446 0.5436 0.5425 0.5414 0.5402 0.5390 0.5377 0.5363 0.5349 0.5335 0.5320 0.5304 0.5288 0.5271 0.5253 0.5235 0.5216 0.5197 0.5176 0.5156 0.5134 0.5112 0.5089 0.5066 0.5042 0.5017 0.4991 0.4965 0.4938 0.4910 0.4882 0.4853 0.4823 0.4792 0.4761 0.4729 0.4696 0.4662 0.4628 0.4593 0.4557 0.4520 0.4483 0.4445 0.4406 0.4366 0.4326 0.4284 0.4242 0.4199 0.4156 0.4112 0.4066 0.4020 0.3974 0.3926 0.3878 0.3829 0.3779 0.3729 0.3678 0.3626 0.3573 0.3519 0.3465 0.3410 0.3354 0.3297 0.3240 0.3182 0.3123 0.3064 0.3004 0.2943 0.2881 0.2819 0.2756 0.2693 0.2629 0.2564 0.2499 0.2433 0.2367 0.2301 0.2234 0.2166 0.2099 0.2031 0.1963 0.1895 0.1827 0.1760 0.1693 0.1626 0.1560 0.1496 0.1432 0.1371 0.1311 0.1254 0.1200 0.1150 0.1103 0.1062 0.1026 0.0997 0.0975 0.0960 0.0953 0.0954 0.0963 0.0981 0.1007 0.1041 0.1081 0.1128 0.1181 0.1239 0.1302 0.1369 0.1439"/></feComponentTransfer></filter><linearGradient id="cb" x1="0" y1="1" x2="0" y2="0"><stop offset="0.0000" stop-color="#440154"/><stop offset="0.0312" stop-color="#470d60"/><stop offset="0.0625" stop-color="#48186a"/><stop offset="0.0938" stop-color="#482374"/><stop offset="0.1250" stop-color="#472d7b"/><stop offset="0.1562" stop-color="#453781"/><stop offset="0.1875" stop-color="#424086"/><stop offset="0.2188" stop-color="#3e4989"/><stop offset="0.2500" stop-color="#3b528b"/><stop offset="0.2812" stop-color="#375b8d"/><stop offset="0.3125" stop-color="#33638d"/><stop offset="0.3438" stop-color="#2f6b8e"/><stop offset="0.3750" stop-color="#2c728e"/><stop offset="0.4062" stop-color="#297a8e"/><stop offset="0.4375" stop-color="#26828e"/><stop offset="0.4688" stop-color="#23898e"/><stop offset="0.5000" stop-color="#21918c"/><stop offset="0.5312" stop-color="#1f988b"/><stop offset="0.5625" stop-color="#1fa088"/><stop offset="0.5938" stop-color="#22a785"/><stop offset="0.6250" stop-color="#28ae80"/><stop offset="0.6562" stop-color="#32b67a"/><stop offset="0.6875" stop-color="#3fbc73"/><stop offset="0.7188" stop-color="#4ec36b"/><stop offset="0.7500" stop-color="#5ec962"/><stop offset="0.7812" stop-color="#70cf57"/><stop offset="0.8125" stop-color="#84d44b"/><stop offset="0.8438" stop-color="#98d83e"/><stop offset="0.8750" stop-color="#addc30"/><stop offset="0.9062" stop-color="#c2df23"/><stop offset="0.9375" stop-color="#d8e219"/><stop offset="0.9688" stop-color="#ece51b"/><stop offset="1.0000" stop-color="#fde725"/></linearGradient><linearGradient id="lift" x1="0" y1="0" x2="0" y2="1"><stop offset="0" stop-color="#fff" stop-opacity="0"/><stop offset="0.3" stop-color="#fff" stop-opacity="0.01"/><stop offset="0.45" stop-color="#fff" stop-opacity="0.04"/><stop offset="0.6" stop-color="#fff" stop-opacity="0.08"/><stop offset="0.75" stop-color="#fff" stop-opacity="0.13"/><stop offset="0.90" stop-color="#fff" stop-opacity="0.22"/><stop offset="0.96" stop-color="#fff" stop-opacity="0.27"/><stop offset="1" stop-color="#fff" stop-opacity="0.30"/></linearGradient><linearGradient id="botg" x1="0" y1="0" x2="0" y2="1"><stop offset="0" stop-color="#c2c2c2" stop-opacity="0"/><stop offset="0.5" stop-color="#c2c2c2" stop-opacity="0.25"/><stop offset="0.8" stop-color="#c2c2c2" stop-opacity="0.55"/><stop offset="1" stop-color="#c4c4c4" stop-opacity="0.9"/></linearGradient><filter id="b2" filterUnits="userSpaceOnUse" x="100" y="0" width="1100" height="540"><feGaussianBlur stdDeviation="3.5 6"/></filter><filter id="b3" filterUnits="userSpaceOnUse" x="100" y="0" width="1100" height="540"><feGaussianBlur stdDeviation="2.5 3.2"/></filter><filter id="b1" filterUnits="userSpaceOnUse" x="100" y="20" width="1100" height="500"><feGaussianBlur stdDeviation="2 1.3"/></filter></defs>
<rect width="1500" height="600" fill="#fff"/>
<g filter="url(#vir)"><rect x="120" y="30" width="1044" height="480" fill="url(#prof)"/><rect x="120" y="30" width="1044" height="480" fill="url(#lift)"/><g filter="url(#b2)" fill="#000"><rect x="962" y="170" width="17" height="45" fill-opacity="0.08"/><rect x="591" y="150" width="17" height="120" fill-opacity="0.06"/><rect x="234" y="172" width="15" height="100" fill-opacity="0.10"/><rect x="1020" y="63" width="27" height="16" fill-opacity="0.12"/><rect x="703" y="150" width="10" height="120" fill-opacity="0.08"/><rect x="777" y="150" width="10" height="75" fill-opacity="0.08"/><rect x="870" y="62" width="28" height="22" fill-opacity="0.10"/><rect x="964" y="62" width="27" height="22" fill-opacity="0.10"/><rect x="1149" y="150" width="12" height="30" fill-opacity="0.15"/><rect x="535" y="64" width="10" height="24" fill-opacity="0.15"/><rect x="535" y="214" width="10" height="22" fill-opacity="0.15"/><rect x="415" y="214" width="18" height="14" fill-opacity="0.08"/><rect x="461" y="214" width="26" height="16" fill-opacity="0.06"/><rect x="1074" y="46" width="12" height="5" fill-opacity="0.30"/><rect x="1074" y="82" width="12" height="5" fill-opacity="0.30"/><rect x="1073" y="127" width="12" height="5" fill-opacity="0.30"/><rect x="1074" y="193" width="12" height="5" fill-opacity="0.30"/><rect x="1075" y="223" width="12" height="5" fill-opacity="0.30"/><rect x="1074" y="248" width="12" height="5" fill-opacity="0.30"/><rect x="1112" y="46" width="12" height="5" fill-opacity="0.30"/><rect x="1112" y="84" width="12" height="5" fill-opacity="0.30"/><rect x="1114" y="122" width="12" height="5" fill-opacity="0.30"/><rect x="1111" y="158" width="12" height="5" fill-opacity="0.30"/><rect x="1113" y="208" width="12" height="5" fill-opacity="0.30"/><rect x="1074" y="298" width="12" height="5" fill-opacity="0.30"/><rect x="1112" y="260" width="12" height="5" fill-opacity="0.30"/><rect x="1094" y="58" width="12" height="5" fill-opacity="0.30"/><rect x="1076" y="158" width="12" height="5" fill-opacity="0.30"/></g><g filter="url(#b2)" fill="#fff"><rect x="236" y="34" width="29" height="30" fill-opacity="0.75"/><rect x="461" y="34" width="26" height="28" fill-opacity="0.65"/><rect x="647" y="30" width="28" height="30" fill-opacity="0.65"/><rect x="833" y="30" width="10" height="30" fill-opacity="0.50"/><rect x="870" y="30" width="28" height="30" fill-opacity="0.40"/><rect x="964" y="30" width="27" height="30" fill-opacity="0.30"/><rect x="1020" y="32" width="27" height="30" fill-opacity="0.60"/><rect x="236" y="240" width="29" height="30" fill-opacity="0.50"/><rect x="236" y="286" width="29" height="20" fill-opacity="0.50"/><rect x="461" y="240" width="26" height="30" fill-opacity="0.40"/><rect x="461" y="286" width="26" height="20" fill-opacity="0.50"/><rect x="647" y="286" width="28" height="20" fill-opacity="0.50"/><rect x="647" y="180" width="28" height="35" fill-opacity="0.30"/><rect x="833" y="246" width="10" height="26" fill-opacity="0.50"/><rect x="833" y="286" width="10" height="20" fill-opacity="0.40"/><rect x="870" y="440" width="28" height="22" fill-opacity="0.40"/><rect x="964" y="440" width="27" height="22" fill-opacity="0.30"/><rect x="1020" y="290" width="27" height="20" fill-opacity="0.50"/><rect x="1020" y="440" width="27" height="20" fill-opacity="0.40"/><rect x="236" y="440" width="29" height="25" fill-opacity="0.40"/><rect x="461" y="440" width="26" height="22" fill-opacity="0.40"/><rect x="647" y="440" width="28" height="22" fill-opacity="0.40"/><rect x="833" y="440" width="10" height="18" fill-opacity="0.40"/><rect x="591" y="286" width="26" height="20" fill-opacity="0.30"/><rect x="870" y="286" width="28" height="20" fill-opacity="0.30"/><rect x="964" y="286" width="27" height="20" fill-opacity="0.30"/><rect x="1020" y="240" width="27" height="30" fill-opacity="0.40"/><rect x="647" y="240" width="28" height="30" fill-opacity="0.30"/><rect x="178" y="36" width="13" height="20" fill-opacity="0.30"/><rect x="141" y="40" width="12" height="20" fill-opacity="0.22"/><rect x="141" y="90" width="12" height="20" fill-opacity="0.22"/><rect x="141" y="124" width="12" height="18" fill-opacity="0.18"/><rect x="141" y="240" width="12" height="22" fill-opacity="0.22"/><rect x="141" y="290" width="12" height="30" fill-opacity="0.18"/><rect x="141" y="345" width="12" height="30" fill-opacity="0.22"/><rect x="141" y="405" width="12" height="23" fill-opacity="0.22"/><rect x="141" y="450" width="12" height="30" fill-opacity="0.22"/><rect x="327" y="40" width="14" height="22" fill-opacity="0.22"/><rect x="327" y="95" width="14" height="17" fill-opacity="0.14"/><rect x="327" y="240" width="14" height="25" fill-opacity="0.18"/><rect x="327" y="290" width="14" height="30" fill-opacity="0.18"/><rect x="327" y="340" width="14" height="25" fill-opacity="0.14"/><rect x="327" y="410" width="14" height="25" fill-opacity="0.18"/><rect x="739" y="40" width="10" height="22" fill-opacity="0.18"/><rect x="739" y="95" width="10" height="23" fill-opacity="0.18"/><rect x="739" y="290" width="10" height="20" fill-opacity="0.22"/><rect x="739" y="340" width="10" height="30" fill-opacity="0.14"/><rect x="739" y="405" width="10" height="20" fill-opacity="0.18"/><rect x="739" y="440" width="10" height="30" fill-opacity="0.18"/><rect x="925" y="40" width="10" height="24" fill-opacity="0.18"/><rect x="925" y="290" width="10" height="20" fill-opacity="0.18"/><rect x="925" y="395" width="10" height="20" fill-opacity="0.18"/><rect x="925" y="440" width="10" height="28" fill-opacity="0.18"/></g><g filter="url(#b3)" fill="#000"><rect x="176" y="58.5" width="17" height="9" fill-opacity="0.03"/><rect x="176" y="84.5" width="17" height="9" fill-opacity="0.10"/><rect x="176" y="106.5" width="17" height="9" fill-opacity="0.10"/><rect x="176" y="133.5" width="17" height="9" fill-opacity="0.03"/><rect x="176" y="157.5" width="17" height="9" fill-opacity="0.03"/><rect x="176" y="186.5" width="17" height="9" fill-opacity="0.03"/><rect x="176" y="230.5" width="17" height="9" fill-opacity="0.07"/><rect x="176" y="303.5" width="17" height="9" fill-opacity="0.03"/><rect x="176" y="333.5" width="17" height="9" fill-opacity="0.10"/><rect x="176" y="373.5" width="17" height="9" fill-opacity="0.03"/><rect x="176" y="401.5" width="17" height="9" fill-opacity="0.03"/><rect x="176" y="430.5" width="17" height="9" fill-opacity="0.03"/><rect x="176" y="459.5" width="17" height="9" fill-opacity="0.07"/><rect x="251" y="61.5" width="18" height="9" fill-opacity="0.07"/><rect x="234" y="73.5" width="33" height="9" fill-opacity="0.03"/><rect x="234" y="90.5" width="17" height="9" fill-opacity="0.07"/><rect x="234" y="113.5" width="15" height="9" fill-opacity="0.07"/><rect x="251" y="144.5" width="16" height="9" fill-opacity="0.07"/><rect x="236" y="202.5" width="12" height="9" fill-opacity="0.07"/><rect x="236" y="221.5" width="15" height="9" fill-opacity="0.03"/><rect x="234" y="305.5" width="33" height="9" fill-opacity="0.10"/><rect x="234" y="334.5" width="33" height="9" fill-opacity="0.03"/><rect x="234" y="404.5" width="17" height="9" fill-opacity="0.07"/><rect x="234" y="433.5" width="33" height="9" fill-opacity="0.03"/><rect x="234" y="462.5" width="17" height="9" fill-opacity="0.07"/><rect x="291" y="61.5" width="13" height="9" fill-opacity="0.03"/><rect x="291" y="85.5" width="13" height="9" fill-opacity="0.10"/><rect x="291" y="151.5" width="13" height="9" fill-opacity="0.03"/><rect x="291" y="226.5" width="13" height="9" fill-opacity="0.10"/><rect x="291" y="275.5" width="13" height="9" fill-opacity="0.07"/><rect x="291" y="305.5" width="13" height="9" fill-opacity="0.03"/><rect x="291" y="428.5" width="13" height="9" fill-opacity="0.03"/><rect x="139" y="182.5" width="16" height="9" fill-opacity="0.07"/><rect x="139" y="210.5" width="16" height="9" fill-opacity="0.03"/><rect x="139" y="327.5" width="16" height="9" fill-opacity="0.07"/><rect x="139" y="434.5" width="16" height="9" fill-opacity="0.07"/><rect x="325" y="207.5" width="18" height="9" fill-opacity="0.07"/><rect x="325" y="374.5" width="18" height="9" fill-opacity="0.07"/><rect x="413" y="73.5" width="22" height="9" fill-opacity="0.07"/><rect x="413" y="103.5" width="22" height="9" fill-opacity="0.03"/><rect x="413" y="216.5" width="22" height="9" fill-opacity="0.07"/><rect x="413" y="307.5" width="22" height="9" fill-opacity="0.10"/><rect x="413" y="349.5" width="22" height="9" fill-opacity="0.03"/><rect x="413" y="405.5" width="22" height="9" fill-opacity="0.10"/><rect x="413" y="428.5" width="22" height="9" fill-opacity="0.10"/><rect x="459" y="63.5" width="30" height="9" fill-opacity="0.10"/><rect x="459" y="73.5" width="30" height="9" fill-opacity="0.03"/><rect x="459" y="103.5" width="30" height="9" fill-opacity="0.03"/><rect x="459" y="133.5" width="30" height="9" fill-opacity="0.03"/><rect x="459" y="187.5" width="30" height="9" fill-opacity="0.03"/><rect x="459" y="218.5" width="30" height="9" fill-opacity="0.07"/><rect x="459" y="275.5" width="30" height="9" fill-opacity="0.03"/><rect x="459" y="308.5" width="30" height="9" fill-opacity="0.10"/><rect x="459" y="349.5" width="30" height="9" fill-opacity="0.07"/><rect x="459" y="406.5" width="30" height="9" fill-opacity="0.10"/><rect x="459" y="429.5" width="30" height="9" fill-opacity="0.10"/><rect x="459" y="457.5" width="30" height="9" fill-opacity="0.03"/><rect x="515" y="63.5" width="16" height="9" fill-opacity="0.03"/><rect x="515" y="275.5" width="32" height="9" fill-opacity="0.10"/><rect x="515" y="308.5" width="16" height="9" fill-opacity="0.03"/><rect x="515" y="408.5" width="32" height="9" fill-opacity="0.10"/><rect x="515" y="430.5" width="32" height="9" fill-opacity="0.10"/><rect x="515" y="218.5" width="16" height="9" fill-opacity="0.03"/><rect x="589" y="59.5" width="30" height="9" fill-opacity="0.10"/><rect x="589" y="85.5" width="30" height="9" fill-opacity="0.03"/><rect x="589" y="227.5" width="30" height="9" fill-opacity="0.03"/><rect x="589" y="305.5" width="30" height="9" fill-opacity="0.10"/><rect x="589" y="331.5" width="30" height="9" fill-opacity="0.03"/><rect x="589" y="353.5" width="30" height="9" fill-opacity="0.03"/><rect x="589" y="401.5" width="30" height="9" fill-opacity="0.03"/><rect x="589" y="428.5" width="30" height="9" fill-opacity="0.03"/><rect x="589" y="457.5" width="30" height="9" fill-opacity="0.03"/><rect x="645" y="61.5" width="32" height="9" fill-opacity="0.10"/><rect x="645" y="86.5" width="32" height="9" fill-opacity="0.07"/><rect x="645" y="225.5" width="32" height="9" fill-opacity="0.07"/><rect x="645" y="306.5" width="32" height="9" fill-opacity="0.10"/><rect x="645" y="331.5" width="32" height="9" fill-opacity="0.03"/><rect x="645" y="353.5" width="32" height="9" fill-opacity="0.03"/><rect x="645" y="402.5" width="32" height="9" fill-opacity="0.03"/><rect x="645" y="429.5" width="32" height="9" fill-opacity="0.03"/><rect x="645" y="457.5" width="32" height="9" fill-opacity="0.03"/><rect x="701" y="63.5" width="14" height="9" fill-opacity="0.07"/><rect x="701" y="88.5" width="14" height="9" fill-opacity="0.10"/><rect x="701" y="306.5" width="14" height="9" fill-opacity="0.07"/><rect x="701" y="429.5" width="14" height="9" fill-opacity="0.03"/><rect x="589" y="144.5" width="30" height="9" fill-opacity="0.10"/><rect x="645" y="144.5" width="32" height="9" fill-opacity="0.10"/><rect x="701" y="144.5" width="14" height="9" fill-opacity="0.07"/><rect x="515" y="144.5" width="16" height="9" fill-opacity="0.03"/><rect x="775" y="144.5" width="14" height="9" fill-opacity="0.03"/><rect x="1147" y="385.5" width="16" height="9" fill-opacity="0.07"/><rect x="775" y="62.5" width="14" height="9" fill-opacity="0.03"/><rect x="775" y="87.5" width="14" height="9" fill-opacity="0.10"/><rect x="775" y="223.5" width="14" height="9" fill-opacity="0.10"/><rect x="775" y="275.5" width="14" height="9" fill-opacity="0.07"/><rect x="775" y="308.5" width="14" height="9" fill-opacity="0.07"/><rect x="775" y="428.5" width="14" height="9" fill-opacity="0.07"/><rect x="831" y="84.5" width="14" height="9" fill-opacity="0.03"/><rect x="831" y="107.5" width="14" height="9" fill-opacity="0.07"/><rect x="831" y="181.5" width="14" height="9" fill-opacity="0.10"/><rect x="831" y="229.5" width="14" height="9" fill-opacity="0.03"/><rect x="831" y="271.5" width="14" height="9" fill-opacity="0.03"/><rect x="831" y="338.5" width="14" height="9" fill-opacity="0.07"/><rect x="831" y="423.5" width="14" height="9" fill-opacity="0.07"/><rect x="831" y="455.5" width="14" height="9" fill-opacity="0.03"/><rect x="868" y="62.5" width="32" height="9" fill-opacity="0.10"/><rect x="868" y="73.5" width="32" height="9" fill-opacity="0.07"/><rect x="868" y="159.5" width="32" height="9" fill-opacity="0.03"/><rect x="868" y="187.5" width="32" height="9" fill-opacity="0.03"/><rect x="868" y="218.5" width="32" height="9" fill-opacity="0.07"/><rect x="868" y="274.5" width="32" height="9" fill-opacity="0.03"/><rect x="868" y="308.5" width="32" height="9" fill-opacity="0.07"/><rect x="868" y="349.5" width="32" height="9" fill-opacity="0.03"/><rect x="868" y="406.5" width="32" height="9" fill-opacity="0.10"/><rect x="868" y="429.5" width="32" height="9" fill-opacity="0.10"/><rect x="868" y="457.5" width="32" height="9" fill-opacity="0.03"/><rect x="962" y="63.5" width="31" height="9" fill-opacity="0.10"/><rect x="962" y="73.5" width="31" height="9" fill-opacity="0.07"/><rect x="962" y="157.5" width="31" height="9" fill-opacity="0.03"/><rect x="962" y="185.5" width="31" height="9" fill-opacity="0.03"/><rect x="962" y="218.5" width="31" height="9" fill-opacity="0.07"/><rect x="962" y="275.5" width="31" height="9" fill-opacity="0.03"/><rect x="962" y="308.5" width="31" height="9" fill-opacity="0.07"/><rect x="962" y="349.5" width="31" height="9" fill-opacity="0.03"/><rect x="962" y="406.5" width="31" height="9" fill-opacity="0.10"/><rect x="962" y="429.5" width="31" height="9" fill-opacity="0.10"/><rect x="962" y="458.5" width="31" height="9" fill-opacity="0.03"/><rect x="737" y="87.5" width="14" height="9" fill-opacity="0.03"/><rect x="737" y="223.5" width="14" height="9" fill-opacity="0.03"/><rect x="923" y="308.5" width="14" height="9" fill-opacity="0.03"/><rect x="1018" y="65.5" width="31" height="9" fill-opacity="0.03"/><rect x="1050" y="52.5" width="15" height="9" fill-opacity="0.05"/><rect x="1050" y="79.5" width="15" height="9" fill-opacity="0.05"/><rect x="1050" y="106.5" width="15" height="9" fill-opacity="0.05"/><rect x="1050" y="133.5" width="15" height="9" fill-opacity="0.05"/><rect x="1050" y="158.5" width="15" height="9" fill-opacity="0.05"/><rect x="1050" y="183.5" width="15" height="9" fill-opacity="0.05"/><rect x="1050" y="209.5" width="15" height="9" fill-opacity="0.05"/><rect x="1050" y="235.5" width="15" height="9" fill-opacity="0.05"/><rect x="1018" y="221.5" width="31" height="9" fill-opacity="0.07"/><rect x="1018" y="275.5" width="31" height="9" fill-opacity="0.07"/><rect x="1018" y="310.5" width="31" height="9" fill-opacity="0.07"/><rect x="1018" y="347.5" width="31" height="9" fill-opacity="0.07"/><rect x="1050" y="301.5" width="15" height="9" fill-opacity="0.05"/><rect x="1050" y="377.5" width="15" height="9" fill-opacity="0.05"/><rect x="1018" y="408.5" width="31" height="9" fill-opacity="0.10"/><rect x="1050" y="403.5" width="15" height="9" fill-opacity="0.05"/><rect x="1018" y="430.5" width="49" height="9" fill-opacity="0.10"/><rect x="1018" y="454.5" width="49" height="9" fill-opacity="0.03"/><rect x="1147" y="59.5" width="16" height="9" fill-opacity="0.10"/><rect x="1147" y="85.5" width="16" height="9" fill-opacity="0.03"/><rect x="1147" y="231.5" width="16" height="9" fill-opacity="0.10"/><rect x="1147" y="303.5" width="16" height="9" fill-opacity="0.03"/><rect x="1147" y="354.5" width="16" height="9" fill-opacity="0.10"/><rect x="1147" y="427.5" width="16" height="9" fill-opacity="0.10"/><rect x="1089" y="337.5" width="20" height="9" fill-opacity="0.03"/><rect x="1089" y="404.5" width="20" height="9" fill-opacity="0.07"/><rect x="139" y="44.4" width="16" height="8" fill-opacity="0.110"/><rect x="139" y="71.0" width="16" height="8" fill-opacity="0.110"/><rect x="139" y="97.6" width="16" height="8" fill-opacity="0.110"/><rect x="139" y="124.2" width="16" height="8" fill-opacity="0.110"/><rect x="139" y="150.8" width="16" height="8" fill-opacity="0.110"/><rect x="139" y="177.4" width="16" height="8" fill-opacity="0.110"/><rect x="139" y="204.0" width="16" height="8" fill-opacity="0.110"/><rect x="139" y="230.6" width="16" height="8" fill-opacity="0.110"/><rect x="139" y="257.2" width="16" height="8" fill-opacity="0.110"/><rect x="139" y="283.8" width="16" height="8" fill-opacity="0.110"/><rect x="139" y="310.4" width="16" height="8" fill-opacity="0.110"/><rect x="139" y="337.0" width="16" height="8" fill-opacity="0.110"/><rect x="139" y="363.6" width="16" height="8" fill-opacity="0.110"/><rect x="139" y="390.2" width="16" height="8" fill-opacity="0.110"/><rect x="139" y="416.8" width="16" height="8" fill-opacity="0.110"/><rect x="139" y="443.4" width="16" height="8" fill-opacity="0.110"/><rect x="139" y="470.0" width="16" height="8" fill-opacity="0.110"/><rect x="139" y="496.6" width="16" height="8" fill-opacity="0.110"/><rect x="325" y="47.4" width="18" height="8" fill-opacity="0.110"/><rect x="325" y="74.0" width="18" height="8" fill-opacity="0.110"/><rect x="325" y="100.6" width="18" height="8" fill-opacity="0.110"/><rect x="325" y="127.2" width="18" height="8" fill-opacity="0.110"/><rect x="325" y="153.8" width="18" height="8" fill-opacity="0.110"/><rect x="325" y="180.4" width="18" height="8" fill-opacity="0.110"/><rect x="325" y="207.0" width="18" height="8" fill-opacity="0.110"/><rect x="325" y="233.6" width="18" height="8" fill-opacity="0.110"/><rect x="325" y="260.2" width="18" height="8" fill-opacity="0.110"/><rect x="325" y="286.8" width="18" height="8" fill-opacity="0.110"/><rect x="325" y="313.4" width="18" height="8" fill-opacity="0.110"/><rect x="325" y="340.0" width="18" height="8" fill-opacity="0.110"/><rect x="325" y="366.6" width="18" height="8" fill-opacity="0.110"/><rect x="325" y="393.2" width="18" height="8" fill-opacity="0.110"/><rect x="325" y="419.8" width="18" height="8" fill-opacity="0.110"/><rect x="325" y="446.4" width="18" height="8" fill-opacity="0.110"/><rect x="325" y="473.0" width="18" height="8" fill-opacity="0.110"/><rect x="325" y="499.6" width="18" height="8" fill-opacity="0.110"/><rect x="737" y="41.4" width="14" height="8" fill-opacity="0.110"/><rect x="737" y="68.0" width="14" height="8" fill-opacity="0.110"/><rect x="737" y="94.6" width="14" height="8" fill-opacity="0.110"/><rect x="737" y="121.2" width="14" height="8" fill-opacity="0.110"/><rect x="737" y="147.8" width="14" height="8" fill-opacity="0.110"/><rect x="737" y="174.4" width="14" height="8" fill-opacity="0.110"/><rect x="737" y="201.0" width="14" height="8" fill-opacity="0.110"/><rect x="737" y="227.6" width="14" height="8" fill-opacity="0.110"/><rect x="737" y="254.2" width="14" height="8" fill-opacity="0.110"/><rect x="737" y="280.8" width="14" height="8" fill-opacity="0.110"/><rect x="737" y="307.4" width="14" height="8" fill-opacity="0.110"/><rect x="737" y="334.0" width="14" height="8" fill-opacity="0.110"/><rect x="737" y="360.6" width="14" height="8" fill-opacity="0.110"/><rect x="737" y="387.2" width="14" height="8" fill-opacity="0.110"/><rect x="737" y="413.8" width="14" height="8" fill-opacity="0.110"/><rect x="737" y="440.4" width="14" height="8" fill-opacity="0.110"/><rect x="737" y="467.0" width="14" height="8" fill-opacity="0.110"/><rect x="737" y="493.6" width="14" height="8" fill-opacity="0.110"/><rect x="923" y="45.4" width="14" height="8" fill-opacity="0.110"/><rect x="923" y="72.0" width="14" height="8" fill-opacity="0.110"/><rect x="923" y="98.6" width="14" height="8" fill-opacity="0.110"/><rect x="923" y="125.2" width="14" height="8" fill-opacity="0.110"/><rect x="923" y="151.8" width="14" height="8" fill-opacity="0.110"/><rect x="923" y="178.4" width="14" height="8" fill-opacity="0.110"/><rect x="923" y="205.0" width="14" height="8" fill-opacity="0.110"/><rect x="923" y="231.6" width="14" height="8" fill-opacity="0.110"/><rect x="923" y="258.2" width="14" height="8" fill-opacity="0.110"/><rect x="923" y="284.8" width="14" height="8" fill-opacity="0.110"/><rect x="923" y="311.4" width="14" height="8" fill-opacity="0.110"/><rect x="923" y="338.0" width="14" height="8" fill-opacity="0.110"/><rect x="923" y="364.6" width="14" height="8" fill-opacity="0.110"/><rect x="923" y="391.2" width="14" height="8" fill-opacity="0.110"/><rect x="923" y="417.8" width="14" height="8" fill-opacity="0.110"/><rect x="923" y="444.4" width="14" height="8" fill-opacity="0.110"/><rect x="923" y="471.0" width="14" height="8" fill-opacity="0.110"/><rect x="923" y="497.6" width="14" height="8" fill-opacity="0.110"/><rect x="176" y="31.8" width="17" height="8" fill-opacity="0.065"/><rect x="176" y="58.4" width="17" height="8" fill-opacity="0.065"/><rect x="176" y="85.0" width="17" height="8" fill-opacity="0.065"/><rect x="176" y="111.6" width="17" height="8" fill-opacity="0.065"/><rect x="176" y="138.2" width="17" height="8" fill-opacity="0.065"/><rect x="176" y="164.8" width="17" height="8" fill-opacity="0.065"/><rect x="176" y="191.4" width="17" height="8" fill-opacity="0.065"/><rect x="176" y="218.0" width="17" height="8" fill-opacity="0.065"/><rect x="176" y="244.6" width="17" height="8" fill-opacity="0.065"/><rect x="176" y="271.2" width="17" height="8" fill-opacity="0.065"/><rect x="176" y="297.8" width="17" height="8" fill-opacity="0.065"/><rect x="176" y="324.4" width="17" height="8" fill-opacity="0.065"/><rect x="176" y="351.0" width="17" height="8" fill-opacity="0.065"/><rect x="176" y="377.6" width="17" height="8" fill-opacity="0.065"/><rect x="176" y="404.2" width="17" height="8" fill-opacity="0.065"/><rect x="176" y="430.8" width="17" height="8" fill-opacity="0.065"/><rect x="176" y="457.4" width="17" height="8" fill-opacity="0.065"/><rect x="176" y="484.0" width="17" height="8" fill-opacity="0.065"/><rect x="234" y="35.4" width="33" height="8" fill-opacity="0.065"/><rect x="234" y="62.0" width="33" height="8" fill-opacity="0.065"/><rect x="234" y="88.6" width="33" height="8" fill-opacity="0.065"/><rect x="234" y="115.2" width="33" height="8" fill-opacity="0.065"/><rect x="234" y="141.8" width="33" height="8" fill-opacity="0.065"/><rect x="234" y="168.4" width="33" height="8" fill-opacity="0.065"/><rect x="234" y="195.0" width="33" height="8" fill-opacity="0.065"/><rect x="234" y="221.6" width="33" height="8" fill-opacity="0.065"/><rect x="234" y="248.2" width="33" height="8" fill-opacity="0.065"/><rect x="234" y="274.8" width="33" height="8" fill-opacity="0.065"/><rect x="234" y="301.4" width="33" height="8" fill-opacity="0.065"/><rect x="234" y="328.0" width="33" height="8" fill-opacity="0.065"/><rect x="234" y="354.6" width="33" height="8" fill-opacity="0.065"/><rect x="234" y="381.2" width="33" height="8" fill-opacity="0.065"/><rect x="234" y="407.8" width="33" height="8" fill-opacity="0.065"/><rect x="234" y="434.4" width="33" height="8" fill-opacity="0.065"/><rect x="234" y="461.0" width="33" height="8" fill-opacity="0.065"/><rect x="234" y="487.6" width="33" height="8" fill-opacity="0.065"/><rect x="291" y="32.8" width="13" height="8" fill-opacity="0.065"/><rect x="291" y="59.4" width="13" height="8" fill-opacity="0.065"/><rect x="291" y="86.0" width="13" height="8" fill-opacity="0.065"/><rect x="291" y="112.6" width="13" height="8" fill-opacity="0.065"/><rect x="291" y="139.2" width="13" height="8" fill-opacity="0.065"/><rect x="291" y="165.8" width="13" height="8" fill-opacity="0.065"/><rect x="291" y="192.4" width="13" height="8" fill-opacity="0.065"/><rect x="291" y="219.0" width="13" height="8" fill-opacity="0.065"/><rect x="291" y="245.6" width="13" height="8" fill-opacity="0.065"/><rect x="291" y="272.2" width="13" height="8" fill-opacity="0.065"/><rect x="291" y="298.8" width="13" height="8" fill-opacity="0.065"/><rect x="291" y="325.4" width="13" height="8" fill-opacity="0.065"/><rect x="291" y="352.0" width="13" height="8" fill-opacity="0.065"/><rect x="291" y="378.6" width="13" height="8" fill-opacity="0.065"/><rect x="291" y="405.2" width="13" height="8" fill-opacity="0.065"/><rect x="291" y="431.8" width="13" height="8" fill-opacity="0.065"/><rect x="291" y="458.4" width="13" height="8" fill-opacity="0.065"/><rect x="291" y="485.0" width="13" height="8" fill-opacity="0.065"/><rect x="413" y="47.4" width="22" height="8" fill-opacity="0.065"/><rect x="413" y="74.0" width="22" height="8" fill-opacity="0.065"/><rect x="413" y="100.6" width="22" height="8" fill-opacity="0.065"/><rect x="413" y="127.2" width="22" height="8" fill-opacity="0.065"/><rect x="413" y="153.8" width="22" height="8" fill-opacity="0.065"/><rect x="413" y="180.4" width="22" height="8" fill-opacity="0.065"/><rect x="413" y="207.0" width="22" height="8" fill-opacity="0.065"/><rect x="413" y="233.6" width="22" height="8" fill-opacity="0.065"/><rect x="413" y="260.2" width="22" height="8" fill-opacity="0.065"/><rect x="413" y="286.8" width="22" height="8" fill-opacity="0.065"/><rect x="413" y="313.4" width="22" height="8" fill-opacity="0.065"/><rect x="413" y="340.0" width="22" height="8" fill-opacity="0.065"/><rect x="413" y="366.6" width="22" height="8" fill-opacity="0.065"/><rect x="413" y="393.2" width="22" height="8" fill-opacity="0.065"/><rect x="413" y="419.8" width="22" height="8" fill-opacity="0.065"/><rect x="413" y="446.4" width="22" height="8" fill-opacity="0.065"/><rect x="413" y="473.0" width="22" height="8" fill-opacity="0.065"/><rect x="413" y="499.6" width="22" height="8" fill-opacity="0.065"/><rect x="459" y="37.4" width="30" height="8" fill-opacity="0.065"/><rect x="459" y="64.0" width="30" height="8" fill-opacity="0.065"/><rect x="459" y="90.6" width="30" height="8" fill-opacity="0.065"/><rect x="459" y="117.2" width="30" height="8" fill-opacity="0.065"/><rect x="459" y="143.8" width="30" height="8" fill-opacity="0.065"/><rect x="459" y="170.4" width="30" height="8" fill-opacity="0.065"/><rect x="459" y="197.0" width="30" height="8" fill-opacity="0.065"/><rect x="459" y="223.6" width="30" height="8" fill-opacity="0.065"/><rect x="459" y="250.2" width="30" height="8" fill-opacity="0.065"/><rect x="459" y="276.8" width="30" height="8" fill-opacity="0.065"/><rect x="459" y="303.4" width="30" height="8" fill-opacity="0.065"/><rect x="459" y="330.0" width="30" height="8" fill-opacity="0.065"/><rect x="459" y="356.6" width="30" height="8" fill-opacity="0.065"/><rect x="459" y="383.2" width="30" height="8" fill-opacity="0.065"/><rect x="459" y="409.8" width="30" height="8" fill-opacity="0.065"/><rect x="459" y="436.4" width="30" height="8" fill-opacity="0.065"/><rect x="459" y="463.0" width="30" height="8" fill-opacity="0.065"/><rect x="459" y="489.6" width="30" height="8" fill-opacity="0.065"/><rect x="515" y="37.4" width="16" height="8" fill-opacity="0.065"/><rect x="515" y="64.0" width="16" height="8" fill-opacity="0.065"/><rect x="515" y="90.6" width="16" height="8" fill-opacity="0.065"/><rect x="515" y="117.2" width="16" height="8" fill-opacity="0.065"/><rect x="515" y="143.8" width="16" height="8" fill-opacity="0.065"/><rect x="515" y="170.4" width="16" height="8" fill-opacity="0.065"/><rect x="515" y="197.0" width="16" height="8" fill-opacity="0.065"/><rect x="515" y="223.6" width="16" height="8" fill-opacity="0.065"/><rect x="515" y="250.2" width="16" height="8" fill-opacity="0.065"/><rect x="515" y="276.8" width="16" height="8" fill-opacity="0.065"/><rect x="515" y="303.4" width="16" height="8" fill-opacity="0.065"/><rect x="515" y="330.0" width="16" height="8" fill-opacity="0.065"/><rect x="515" y="356.6" width="16" height="8" fill-opacity="0.065"/><rect x="515" y="383.2" width="16" height="8" fill-opacity="0.065"/><rect x="515" y="409.8" width="16" height="8" fill-opacity="0.065"/><rect x="515" y="436.4" width="16" height="8" fill-opacity="0.065"/><rect x="515" y="463.0" width="16" height="8" fill-opacity="0.065"/><rect x="515" y="489.6" width="16" height="8" fill-opacity="0.065"/><rect x="589" y="33.4" width="30" height="8" fill-opacity="0.065"/><rect x="589" y="60.0" width="30" height="8" fill-opacity="0.065"/><rect x="589" y="86.6" width="30" height="8" fill-opacity="0.065"/><rect x="589" y="113.2" width="30" height="8" fill-opacity="0.065"/><rect x="589" y="139.8" width="30" height="8" fill-opacity="0.065"/><rect x="589" y="166.4" width="30" height="8" fill-opacity="0.065"/><rect x="589" y="193.0" width="30" height="8" fill-opacity="0.065"/><rect x="589" y="219.6" width="30" height="8" fill-opacity="0.065"/><rect x="589" y="246.2" width="30" height="8" fill-opacity="0.065"/><rect x="589" y="272.8" width="30" height="8" fill-opacity="0.065"/><rect x="589" y="299.4" width="30" height="8" fill-opacity="0.065"/><rect x="589" y="326.0" width="30" height="8" fill-opacity="0.065"/><rect x="589" y="352.6" width="30" height="8" fill-opacity="0.065"/><rect x="589" y="379.2" width="30" height="8" fill-opacity="0.065"/><rect x="589" y="405.8" width="30" height="8" fill-opacity="0.065"/><rect x="589" y="432.4" width="30" height="8" fill-opacity="0.065"/><rect x="589" y="459.0" width="30" height="8" fill-opacity="0.065"/><rect x="589" y="485.6" width="30" height="8" fill-opacity="0.065"/><rect x="645" y="35.4" width="32" height="8" fill-opacity="0.065"/><rect x="645" y="62.0" width="32" height="8" fill-opacity="0.065"/><rect x="645" y="88.6" width="32" height="8" fill-opacity="0.065"/><rect x="645" y="115.2" width="32" height="8" fill-opacity="0.065"/><rect x="645" y="141.8" width="32" height="8" fill-opacity="0.065"/><rect x="645" y="168.4" width="32" height="8" fill-opacity="0.065"/><rect x="645" y="195.0" width="32" height="8" fill-opacity="0.065"/><rect x="645" y="221.6" width="32" height="8" fill-opacity="0.065"/><rect x="645" y="248.2" width="32" height="8" fill-opacity="0.065"/><rect x="645" y="274.8" width="32" height="8" fill-opacity="0.065"/><rect x="645" y="301.4" width="32" height="8" fill-opacity="0.065"/><rect x="645" y="328.0" width="32" height="8" fill-opacity="0.065"/><rect x="645" y="354.6" width="32" height="8" fill-opacity="0.065"/><rect x="645" y="381.2" width="32" height="8" fill-opacity="0.065"/><rect x="645" y="407.8" width="32" height="8" fill-opacity="0.065"/><rect x="645" y="434.4" width="32" height="8" fill-opacity="0.065"/><rect x="645" y="461.0" width="32" height="8" fill-opacity="0.065"/><rect x="645" y="487.6" width="32" height="8" fill-opacity="0.065"/><rect x="701" y="37.4" width="14" height="8" fill-opacity="0.065"/><rect x="701" y="64.0" width="14" height="8" fill-opacity="0.065"/><rect x="701" y="90.6" width="14" height="8" fill-opacity="0.065"/><rect x="701" y="117.2" width="14" height="8" fill-opacity="0.065"/><rect x="701" y="143.8" width="14" height="8" fill-opacity="0.065"/><rect x="701" y="170.4" width="14" height="8" fill-opacity="0.065"/><rect x="701" y="197.0" width="14" height="8" fill-opacity="0.065"/><rect x="701" y="223.6" width="14" height="8" fill-opacity="0.065"/><rect x="701" y="250.2" width="14" height="8" fill-opacity="0.065"/><rect x="701" y="276.8" width="14" height="8" fill-opacity="0.065"/><rect x="701" y="303.4" width="14" height="8" fill-opacity="0.065"/><rect x="701" y="330.0" width="14" height="8" fill-opacity="0.065"/><rect x="701" y="356.6" width="14" height="8" fill-opacity="0.065"/><rect x="701" y="383.2" width="14" height="8" fill-opacity="0.065"/><rect x="701" y="409.8" width="14" height="8" fill-opacity="0.065"/><rect x="701" y="436.4" width="14" height="8" fill-opacity="0.065"/><rect x="701" y="463.0" width="14" height="8" fill-opacity="0.065"/><rect x="701" y="489.6" width="14" height="8" fill-opacity="0.065"/><rect x="775" y="36.4" width="14" height="8" fill-opacity="0.065"/><rect x="775" y="63.0" width="14" height="8" fill-opacity="0.065"/><rect x="775" y="89.6" width="14" height="8" fill-opacity="0.065"/><rect x="775" y="116.2" width="14" height="8" fill-opacity="0.065"/><rect x="775" y="142.8" width="14" height="8" fill-opacity="0.065"/><rect x="775" y="169.4" width="14" height="8" fill-opacity="0.065"/><rect x="775" y="196.0" width="14" height="8" fill-opacity="0.065"/><rect x="775" y="222.6" width="14" height="8" fill-opacity="0.065"/><rect x="775" y="249.2" width="14" height="8" fill-opacity="0.065"/><rect x="775" y="275.8" width="14" height="8" fill-opacity="0.065"/><rect x="775" y="302.4" width="14" height="8" fill-opacity="0.065"/><rect x="775" y="329.0" width="14" height="8" fill-opacity="0.065"/><rect x="775" y="355.6" width="14" height="8" fill-opacity="0.065"/><rect x="775" y="382.2" width="14" height="8" fill-opacity="0.065"/><rect x="775" y="408.8" width="14" height="8" fill-opacity="0.065"/><rect x="775" y="435.4" width="14" height="8" fill-opacity="0.065"/><rect x="775" y="462.0" width="14" height="8" fill-opacity="0.065"/><rect x="775" y="488.6" width="14" height="8" fill-opacity="0.065"/><rect x="831" y="31.8" width="14" height="8" fill-opacity="0.065"/><rect x="831" y="58.4" width="14" height="8" fill-opacity="0.065"/><rect x="831" y="85.0" width="14" height="8" fill-opacity="0.065"/><rect x="831" y="111.6" width="14" height="8" fill-opacity="0.065"/><rect x="831" y="138.2" width="14" height="8" fill-opacity="0.065"/><rect x="831" y="164.8" width="14" height="8" fill-opacity="0.065"/><rect x="831" y="191.4" width="14" height="8" fill-opacity="0.065"/><rect x="831" y="218.0" width="14" height="8" fill-opacity="0.065"/><rect x="831" y="244.6" width="14" height="8" fill-opacity="0.065"/><rect x="831" y="271.2" width="14" height="8" fill-opacity="0.065"/><rect x="831" y="297.8" width="14" height="8" fill-opacity="0.065"/><rect x="831" y="324.4" width="14" height="8" fill-opacity="0.065"/><rect x="831" y="351.0" width="14" height="8" fill-opacity="0.065"/><rect x="831" y="377.6" width="14" height="8" fill-opacity="0.065"/><rect x="831" y="404.2" width="14" height="8" fill-opacity="0.065"/><rect x="831" y="430.8" width="14" height="8" fill-opacity="0.065"/><rect x="831" y="457.4" width="14" height="8" fill-opacity="0.065"/><rect x="831" y="484.0" width="14" height="8" fill-opacity="0.065"/><rect x="868" y="36.4" width="32" height="8" fill-opacity="0.065"/><rect x="868" y="63.0" width="32" height="8" fill-opacity="0.065"/><rect x="868" y="89.6" width="32" height="8" fill-opacity="0.065"/><rect x="868" y="116.2" width="32" height="8" fill-opacity="0.065"/><rect x="868" y="142.8" width="32" height="8" fill-opacity="0.065"/><rect x="868" y="169.4" width="32" height="8" fill-opacity="0.065"/><rect x="868" y="196.0" width="32" height="8" fill-opacity="0.065"/><rect x="868" y="222.6" width="32" height="8" fill-opacity="0.065"/><rect x="868" y="249.2" width="32" height="8" fill-opacity="0.065"/><rect x="868" y="275.8" width="32" height="8" fill-opacity="0.065"/><rect x="868" y="302.4" width="32" height="8" fill-opacity="0.065"/><rect x="868" y="329.0" width="32" height="8" fill-opacity="0.065"/><rect x="868" y="355.6" width="32" height="8" fill-opacity="0.065"/><rect x="868" y="382.2" width="32" height="8" fill-opacity="0.065"/><rect x="868" y="408.8" width="32" height="8" fill-opacity="0.065"/><rect x="868" y="435.4" width="32" height="8" fill-opacity="0.065"/><rect x="868" y="462.0" width="32" height="8" fill-opacity="0.065"/><rect x="868" y="488.6" width="32" height="8" fill-opacity="0.065"/><rect x="962" y="37.4" width="31" height="8" fill-opacity="0.065"/><rect x="962" y="64.0" width="31" height="8" fill-opacity="0.065"/><rect x="962" y="90.6" width="31" height="8" fill-opacity="0.065"/><rect x="962" y="117.2" width="31" height="8" fill-opacity="0.065"/><rect x="962" y="143.8" width="31" height="8" fill-opacity="0.065"/><rect x="962" y="170.4" width="31" height="8" fill-opacity="0.065"/><rect x="962" y="197.0" width="31" height="8" fill-opacity="0.065"/><rect x="962" y="223.6" width="31" height="8" fill-opacity="0.065"/><rect x="962" y="250.2" width="31" height="8" fill-opacity="0.065"/><rect x="962" y="276.8" width="31" height="8" fill-opacity="0.065"/><rect x="962" y="303.4" width="31" height="8" fill-opacity="0.065"/><rect x="962" y="330.0" width="31" height="8" fill-opacity="0.065"/><rect x="962" y="356.6" width="31" height="8" fill-opacity="0.065"/><rect x="962" y="383.2" width="31" height="8" fill-opacity="0.065"/><rect x="962" y="409.8" width="31" height="8" fill-opacity="0.065"/><rect x="962" y="436.4" width="31" height="8" fill-opacity="0.065"/><rect x="962" y="463.0" width="31" height="8" fill-opacity="0.065"/><rect x="962" y="489.6" width="31" height="8" fill-opacity="0.065"/><rect x="1018" y="39.4" width="31" height="8" fill-opacity="0.065"/><rect x="1018" y="66.0" width="31" height="8" fill-opacity="0.065"/><rect x="1018" y="92.6" width="31" height="8" fill-opacity="0.065"/><rect x="1018" y="119.2" width="31" height="8" fill-opacity="0.065"/><rect x="1018" y="145.8" width="31" height="8" fill-opacity="0.065"/><rect x="1018" y="172.4" width="31" height="8" fill-opacity="0.065"/><rect x="1018" y="199.0" width="31" height="8" fill-opacity="0.065"/><rect x="1018" y="225.6" width="31" height="8" fill-opacity="0.065"/><rect x="1018" y="252.2" width="31" height="8" fill-opacity="0.065"/><rect x="1018" y="278.8" width="31" height="8" fill-opacity="0.065"/><rect x="1018" y="305.4" width="31" height="8" fill-opacity="0.065"/><rect x="1018" y="332.0" width="31" height="8" fill-opacity="0.065"/><rect x="1018" y="358.6" width="31" height="8" fill-opacity="0.065"/><rect x="1018" y="385.2" width="31" height="8" fill-opacity="0.065"/><rect x="1018" y="411.8" width="31" height="8" fill-opacity="0.065"/><rect x="1018" y="438.4" width="31" height="8" fill-opacity="0.065"/><rect x="1018" y="465.0" width="31" height="8" fill-opacity="0.065"/><rect x="1018" y="491.6" width="31" height="8" fill-opacity="0.065"/><rect x="1147" y="33.4" width="16" height="8" fill-opacity="0.065"/><rect x="1147" y="60.0" width="16" height="8" fill-opacity="0.065"/><rect x="1147" y="86.6" width="16" height="8" fill-opacity="0.065"/><rect x="1147" y="113.2" width="16" height="8" fill-opacity="0.065"/><rect x="1147" y="139.8" width="16" height="8" fill-opacity="0.065"/><rect x="1147" y="166.4" width="16" height="8" fill-opacity="0.065"/><rect x="1147" y="193.0" width="16" height="8" fill-opacity="0.065"/><rect x="1147" y="219.6" width="16" height="8" fill-opacity="0.065"/><rect x="1147" y="246.2" width="16" height="8" fill-opacity="0.065"/><rect x="1147" y="272.8" width="16" height="8" fill-opacity="0.065"/><rect x="1147" y="299.4" width="16" height="8" fill-opacity="0.065"/><rect x="1147" y="326.0" width="16" height="8" fill-opacity="0.065"/><rect x="1147" y="352.6" width="16" height="8" fill-opacity="0.065"/><rect x="1147" y="379.2" width="16" height="8" fill-opacity="0.065"/><rect x="1147" y="405.8" width="16" height="8" fill-opacity="0.065"/><rect x="1147" y="432.4" width="16" height="8" fill-opacity="0.065"/><rect x="1147" y="459.0" width="16" height="8" fill-opacity="0.065"/><rect x="1147" y="485.6" width="16" height="8" fill-opacity="0.065"/></g><g filter="url(#b1)" fill="#000"><rect x="176" y="61.9" width="17" height="2.2" fill-opacity="0.08"/><rect x="176" y="87.9" width="17" height="2.2" fill-opacity="0.24"/><rect x="176" y="109.9" width="17" height="2.2" fill-opacity="0.24"/><rect x="176" y="136.9" width="17" height="2.2" fill-opacity="0.08"/><rect x="176" y="160.9" width="17" height="2.2" fill-opacity="0.08"/><rect x="176" y="189.9" width="17" height="2.2" fill-opacity="0.08"/><rect x="176" y="233.9" width="17" height="2.2" fill-opacity="0.16"/><rect x="176" y="306.9" width="17" height="2.2" fill-opacity="0.08"/><rect x="176" y="336.9" width="17" height="2.2" fill-opacity="0.24"/><rect x="176" y="376.9" width="17" height="2.2" fill-opacity="0.08"/><rect x="176" y="404.9" width="17" height="2.2" fill-opacity="0.08"/><rect x="176" y="433.9" width="17" height="2.2" fill-opacity="0.08"/><rect x="176" y="462.9" width="17" height="2.2" fill-opacity="0.16"/><rect x="251" y="64.9" width="18" height="2.2" fill-opacity="0.16"/><rect x="234" y="76.9" width="33" height="2.2" fill-opacity="0.08"/><rect x="234" y="93.9" width="17" height="2.2" fill-opacity="0.16"/><rect x="234" y="116.9" width="15" height="2.2" fill-opacity="0.16"/><rect x="251" y="147.9" width="16" height="2.2" fill-opacity="0.16"/><rect x="236" y="205.9" width="12" height="2.2" fill-opacity="0.16"/><rect x="236" y="224.9" width="15" height="2.2" fill-opacity="0.08"/><rect x="234" y="308.9" width="33" height="2.2" fill-opacity="0.24"/><rect x="234" y="337.9" width="33" height="2.2" fill-opacity="0.08"/><rect x="234" y="407.9" width="17" height="2.2" fill-opacity="0.16"/><rect x="234" y="436.9" width="33" height="2.2" fill-opacity="0.08"/><rect x="234" y="465.9" width="17" height="2.2" fill-opacity="0.16"/><rect x="291" y="64.9" width="13" height="2.2" fill-opacity="0.08"/><rect x="291" y="88.9" width="13" height="2.2" fill-opacity="0.24"/><rect x="291" y="154.9" width="13" height="2.2" fill-opacity="0.08"/><rect x="291" y="229.9" width="13" height="2.2" fill-opacity="0.24"/><rect x="291" y="278.9" width="13" height="2.2" fill-opacity="0.16"/><rect x="291" y="308.9" width="13" height="2.2" fill-opacity="0.08"/><rect x="291" y="431.9" width="13" height="2.2" fill-opacity="0.08"/><rect x="139" y="185.9" width="16" height="2.2" fill-opacity="0.16"/><rect x="139" y="213.9" width="16" height="2.2" fill-opacity="0.08"/><rect x="139" y="330.9" width="16" height="2.2" fill-opacity="0.16"/><rect x="139" y="437.9" width="16" height="2.2" fill-opacity="0.16"/><rect x="325" y="210.9" width="18" height="2.2" fill-opacity="0.16"/><rect x="325" y="377.9" width="18" height="2.2" fill-opacity="0.16"/><rect x="413" y="76.9" width="22" height="2.2" fill-opacity="0.16"/><rect x="413" y="106.9" width="22" height="2.2" fill-opacity="0.08"/><rect x="413" y="219.9" width="22" height="2.2" fill-opacity="0.16"/><rect x="413" y="310.9" width="22" height="2.2" fill-opacity="0.24"/><rect x="413" y="352.9" width="22" height="2.2" fill-opacity="0.08"/><rect x="413" y="408.9" width="22" height="2.2" fill-opacity="0.24"/><rect x="413" y="431.9" width="22" height="2.2" fill-opacity="0.24"/><rect x="459" y="66.9" width="30" height="2.2" fill-opacity="0.24"/><rect x="459" y="76.9" width="30" height="2.2" fill-opacity="0.08"/><rect x="459" y="106.9" width="30" height="2.2" fill-opacity="0.08"/><rect x="459" y="136.9" width="30" height="2.2" fill-opacity="0.08"/><rect x="459" y="190.9" width="30" height="2.2" fill-opacity="0.08"/><rect x="459" y="221.9" width="30" height="2.2" fill-opacity="0.16"/><rect x="459" y="278.9" width="30" height="2.2" fill-opacity="0.08"/><rect x="459" y="311.9" width="30" height="2.2" fill-opacity="0.24"/><rect x="459" y="352.9" width="30" height="2.2" fill-opacity="0.16"/><rect x="459" y="409.9" width="30" height="2.2" fill-opacity="0.24"/><rect x="459" y="432.9" width="30" height="2.2" fill-opacity="0.24"/><rect x="459" y="460.9" width="30" height="2.2" fill-opacity="0.08"/><rect x="515" y="66.9" width="16" height="2.2" fill-opacity="0.08"/><rect x="515" y="278.9" width="32" height="2.2" fill-opacity="0.24"/><rect x="515" y="311.9" width="16" height="2.2" fill-opacity="0.08"/><rect x="515" y="411.9" width="32" height="2.2" fill-opacity="0.24"/><rect x="515" y="433.9" width="32" height="2.2" fill-opacity="0.24"/><rect x="515" y="221.9" width="16" height="2.2" fill-opacity="0.08"/><rect x="589" y="62.9" width="30" height="2.2" fill-opacity="0.24"/><rect x="589" y="88.9" width="30" height="2.2" fill-opacity="0.08"/><rect x="589" y="230.9" width="30" height="2.2" fill-opacity="0.08"/><rect x="589" y="308.9" width="30" height="2.2" fill-opacity="0.24"/><rect x="589" y="334.9" width="30" height="2.2" fill-opacity="0.08"/><rect x="589" y="356.9" width="30" height="2.2" fill-opacity="0.08"/><rect x="589" y="404.9" width="30" height="2.2" fill-opacity="0.08"/><rect x="589" y="431.9" width="30" height="2.2" fill-opacity="0.08"/><rect x="589" y="460.9" width="30" height="2.2" fill-opacity="0.08"/><rect x="645" y="64.9" width="32" height="2.2" fill-opacity="0.24"/><rect x="645" y="89.9" width="32" height="2.2" fill-opacity="0.16"/><rect x="645" y="228.9" width="32" height="2.2" fill-opacity="0.16"/><rect x="645" y="309.9" width="32" height="2.2" fill-opacity="0.24"/><rect x="645" y="334.9" width="32" height="2.2" fill-opacity="0.08"/><rect x="645" y="356.9" width="32" height="2.2" fill-opacity="0.08"/><rect x="645" y="405.9" width="32" height="2.2" fill-opacity="0.08"/><rect x="645" y="432.9" width="32" height="2.2" fill-opacity="0.08"/><rect x="645" y="460.9" width="32" height="2.2" fill-opacity="0.08"/><rect x="701" y="66.9" width="14" height="2.2" fill-opacity="0.16"/><rect x="701" y="91.9" width="14" height="2.2" fill-opacity="0.24"/><rect x="701" y="309.9" width="14" height="2.2" fill-opacity="0.16"/><rect x="701" y="432.9" width="14" height="2.2" fill-opacity="0.08"/><rect x="589" y="147.9" width="30" height="2.2" fill-opacity="0.24"/><rect x="645" y="147.9" width="32" height="2.2" fill-opacity="0.24"/><rect x="701" y="147.9" width="14" height="2.2" fill-opacity="0.16"/><rect x="515" y="147.9" width="16" height="2.2" fill-opacity="0.08"/><rect x="775" y="147.9" width="14" height="2.2" fill-opacity="0.08"/><rect x="1147" y="388.9" width="16" height="2.2" fill-opacity="0.16"/><rect x="775" y="65.9" width="14" height="2.2" fill-opacity="0.08"/><rect x="775" y="90.9" width="14" height="2.2" fill-opacity="0.24"/><rect x="775" y="226.9" width="14" height="2.2" fill-opacity="0.24"/><rect x="775" y="278.9" width="14" height="2.2" fill-opacity="0.16"/><rect x="775" y="311.9" width="14" height="2.2" fill-opacity="0.16"/><rect x="775" y="431.9" width="14" height="2.2" fill-opacity="0.16"/><rect x="831" y="87.9" width="14" height="2.2" fill-opacity="0.08"/><rect x="831" y="110.9" width="14" height="2.2" fill-opacity="0.16"/><rect x="831" y="184.9" width="14" height="2.2" fill-opacity="0.24"/><rect x="831" y="232.9" width="14" height="2.2" fill-opacity="0.08"/><rect x="831" y="274.9" width="14" height="2.2" fill-opacity="0.08"/><rect x="831" y="341.9" width="14" height="2.2" fill-opacity="0.16"/><rect x="831" y="426.9" width="14" height="2.2" fill-opacity="0.16"/><rect x="831" y="458.9" width="14" height="2.2" fill-opacity="0.08"/><rect x="868" y="65.9" width="32" height="2.2" fill-opacity="0.24"/><rect x="868" y="76.9" width="32" height="2.2" fill-opacity="0.16"/><rect x="868" y="162.9" width="32" height="2.2" fill-opacity="0.08"/><rect x="868" y="190.9" width="32" height="2.2" fill-opacity="0.08"/><rect x="868" y="221.9" width="32" height="2.2" fill-opacity="0.16"/><rect x="868" y="277.9" width="32" height="2.2" fill-opacity="0.08"/><rect x="868" y="311.9" width="32" height="2.2" fill-opacity="0.16"/><rect x="868" y="352.9" width="32" height="2.2" fill-opacity="0.08"/><rect x="868" y="409.9" width="32" height="2.2" fill-opacity="0.24"/><rect x="868" y="432.9" width="32" height="2.2" fill-opacity="0.24"/><rect x="868" y="460.9" width="32" height="2.2" fill-opacity="0.08"/><rect x="962" y="66.9" width="31" height="2.2" fill-opacity="0.24"/><rect x="962" y="76.9" width="31" height="2.2" fill-opacity="0.16"/><rect x="962" y="160.9" width="31" height="2.2" fill-opacity="0.08"/><rect x="962" y="188.9" width="31" height="2.2" fill-opacity="0.08"/><rect x="962" y="221.9" width="31" height="2.2" fill-opacity="0.16"/><rect x="962" y="278.9" width="31" height="2.2" fill-opacity="0.08"/><rect x="962" y="311.9" width="31" height="2.2" fill-opacity="0.16"/><rect x="962" y="352.9" width="31" height="2.2" fill-opacity="0.08"/><rect x="962" y="409.9" width="31" height="2.2" fill-opacity="0.24"/><rect x="962" y="432.9" width="31" height="2.2" fill-opacity="0.24"/><rect x="962" y="461.9" width="31" height="2.2" fill-opacity="0.08"/><rect x="737" y="90.9" width="14" height="2.2" fill-opacity="0.08"/><rect x="737" y="226.9" width="14" height="2.2" fill-opacity="0.08"/><rect x="923" y="311.9" width="14" height="2.2" fill-opacity="0.08"/><rect x="1018" y="68.9" width="31" height="2.2" fill-opacity="0.08"/><rect x="1050" y="55.9" width="15" height="2.2" fill-opacity="0.13"/><rect x="1050" y="82.9" width="15" height="2.2" fill-opacity="0.13"/><rect x="1050" y="109.9" width="15" height="2.2" fill-opacity="0.13"/><rect x="1050" y="136.9" width="15" height="2.2" fill-opacity="0.13"/><rect x="1050" y="161.9" width="15" height="2.2" fill-opacity="0.13"/><rect x="1050" y="186.9" width="15" height="2.2" fill-opacity="0.13"/><rect x="1050" y="212.9" width="15" height="2.2" fill-opacity="0.13"/><rect x="1050" y="238.9" width="15" height="2.2" fill-opacity="0.13"/><rect x="1018" y="224.9" width="31" height="2.2" fill-opacity="0.16"/><rect x="1018" y="278.9" width="31" height="2.2" fill-opacity="0.16"/><rect x="1018" y="313.9" width="31" height="2.2" fill-opacity="0.16"/><rect x="1018" y="350.9" width="31" height="2.2" fill-opacity="0.16"/><rect x="1050" y="304.9" width="15" height="2.2" fill-opacity="0.13"/><rect x="1050" y="380.9" width="15" height="2.2" fill-opacity="0.13"/><rect x="1018" y="411.9" width="31" height="2.2" fill-opacity="0.24"/><rect x="1050" y="406.9" width="15" height="2.2" fill-opacity="0.13"/><rect x="1018" y="433.9" width="49" height="2.2" fill-opacity="0.24"/><rect x="1018" y="457.9" width="49" height="2.2" fill-opacity="0.08"/><rect x="1147" y="62.9" width="16" height="2.2" fill-opacity="0.24"/><rect x="1147" y="88.9" width="16" height="2.2" fill-opacity="0.08"/><rect x="1147" y="234.9" width="16" height="2.2" fill-opacity="0.24"/><rect x="1147" y="306.9" width="16" height="2.2" fill-opacity="0.08"/><rect x="1147" y="357.9" width="16" height="2.2" fill-opacity="0.24"/><rect x="1147" y="430.9" width="16" height="2.2" fill-opacity="0.24"/><rect x="1089" y="340.9" width="20" height="2.2" fill-opacity="0.08"/><rect x="1089" y="407.9" width="20" height="2.2" fill-opacity="0.16"/></g><rect x="120" y="496" width="1044" height="14" fill="url(#botg)"/></g>
<rect x="1229.5" y="30.5" width="24" height="480" fill="url(#cb)"/>
<g fill="none" stroke="#000" stroke-width="1.111">
<rect x="120.5" y="30.5" width="1044" height="480"/>
<rect x="1229.5" y="30.5" width="24" height="480"/>
<line x1="129.50" y1="510.5" x2="129.50" y2="515.4"/>
<line x1="223.50" y1="510.5" x2="223.50" y2="515.4"/>
<line x1="316.50" y1="510.5" x2="316.50" y2="515.4"/>
<line x1="409.50" y1="510.5" x2="409.50" y2="515.4"/>
<line x1="502.50" y1="510.5" x2="502.50" y2="515.4"/>
<line x1="595.50" y1="510.5" x2="595.50" y2="515.4"/>
<line x1="689.50" y1="510.5" x2="689.50" y2="515.4"/>
<line x1="782.50" y1="510.5" x2="782.50" y2="515.4"/>
<line x1="875.50" y1="510.5" x2="875.50" y2="515.4"/>
<line x1="968.50" y1="510.5" x2="968.50" y2="515.4"/>
<line x1="1061.50" y1="510.5" x2="1061.50" y2="515.4"/>
<line x1="1155.50" y1="510.5" x2="1155.50" y2="515.4"/>
<line x1="115.6" y1="410.50" x2="120.5" y2="410.50"/>
<line x1="115.6" y1="310.50" x2="120.5" y2="310.50"/>
<line x1="115.6" y1="210.50" x2="120.5" y2="210.50"/>
<line x1="115.6" y1="110.50" x2="120.5" y2="110.50"/>
<line x1="1253.5" y1="496.50" x2="1258.4" y2="496.50"/>
<line x1="1253.5" y1="415.50" x2="1258.4" y2="415.50"/>
<line x1="1253.5" y1="334.50" x2="1258.4" y2="334.50"/>
<line x1="1253.5" y1="253.50" x2="1258.4" y2="253.50"/>
<line x1="1253.5" y1="172.50" x2="1258.4" y2="172.50"/>
<line x1="1253.5" y1="91.50" x2="1258.4" y2="91.50"/>
</g>
<g transform="scale(1.388889)">
<text font-size="10" transform="translate(59.940000000000005 411.7) rotate(-45)">02:59:54</text>
<text font-size="10" transform="translate(127.04400000000001 411.7) rotate(-45)">02:59:54</text>
<text font-size="10" transform="translate(194.14800000000002 411.7) rotate(-45)">02:59:54</text>
<text font-size="10" transform="translate(261.252 411.7) rotate(-45)">02:59:55</text>
<text font-size="10" transform="translate(328.35600000000005 411.7) rotate(-45)">02:59:55</text>
<text font-size="10" transform="translate(395.46000000000004 411.7) rotate(-45)">02:59:55</text>
<text font-size="10" transform="translate(462.564 411.7) rotate(-45)">02:59:55</text>
<text font-size="10" transform="translate(529.668 411.7) rotate(-45)">02:59:55</text>
<text font-size="10" transform="translate(596.772 411.7) rotate(-45)">02:59:56</text>
<text font-size="10" transform="translate(663.8760000000001 411.7) rotate(-45)">02:59:56</text>
<text font-size="10" transform="translate(730.9800000000001 411.7) rotate(-45)">02:59:56</text>
<text font-size="10" transform="translate(798.0840000000001 411.7) rotate(-45)">02:59:56</text>
<text x="462.24" y="425.1" font-size="10" text-anchor="middle">Time</text>
<text x="79.55" y="299.791647" font-size="10" text-anchor="end">10000</text>
<text x="79.55" y="227.70153399999998" font-size="10" text-anchor="end">20000</text>
<text x="79.55" y="155.61142199999998" font-size="10" text-anchor="end">30000</text>
<text x="79.55" y="83.521309" font-size="10" text-anchor="end">40000</text>
<text x="41.0" y="194.4" font-size="10" text-anchor="middle" transform="rotate(-90 41.0 194.4)">Frequency [Hz]</text>
<text font-size="12" text-anchor="middle" transform="translate(462.5 15.6) scale(0.996 1.065)">NAXYS-SN0010 hydrophone spectrogram at 2025-10-03 02:59:54Z</text>
<text x="909.8" y="360.791624" font-size="10" text-anchor="start">0</text>
<text x="909.8" y="302.46251" font-size="10" text-anchor="start">20</text>
<text x="909.8" y="244.133396" font-size="10" text-anchor="start">40</text>
<text x="909.8" y="185.804282" font-size="10" text-anchor="start">60</text>
<text x="909.8" y="127.475168" font-size="10" text-anchor="start">80</text>
<text x="909.8" y="69.146054" font-size="10" text-anchor="start">100</text>
<text x="924.829062" y="194.4" font-size="10" text-anchor="middle" transform="rotate(90 924.829062 194.4)">Pressure [dB re 1 uPa]</text>
</g>
</svg>
</body></html>
